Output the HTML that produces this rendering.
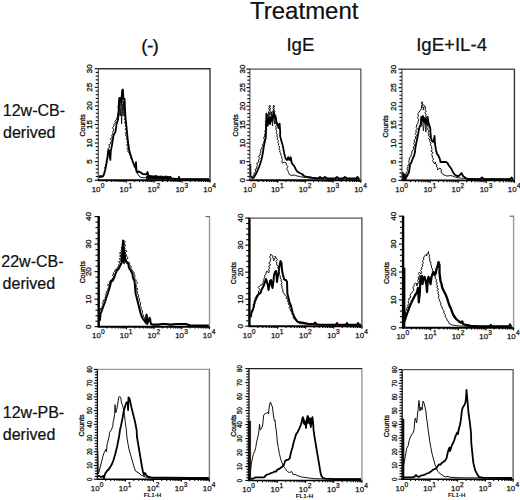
<!DOCTYPE html>
<html><head><meta charset="utf-8"><style>
html,body{margin:0;padding:0;background:#fff;width:520px;height:500px;overflow:hidden}
svg{position:absolute;left:0;top:0;display:block}
text{font-family:"Liberation Sans", sans-serif;fill:#111}
.yl{font-size:8px;text-anchor:middle;stroke:#111;stroke-width:0.3}
.xl{font-size:7.9px;text-anchor:middle;stroke:#111;stroke-width:0.25}
.sup{font-size:6.6px}
.fl{font-size:6.2px;font-weight:bold;text-anchor:middle}
.tk{stroke:#000;stroke-width:1.1}
.ax{stroke:#000;stroke-width:1.4}
.bx{stroke:#333;stroke-width:1.4}
.fillb{fill:#000;stroke:#000;stroke-width:0.6}
.mid{fill:none;stroke:#111;stroke-width:0.9;stroke-linejoin:round}
.thin{fill:none;stroke:#111;stroke-width:1.0;stroke-linejoin:round}
.thick{fill:none;stroke:#000;stroke-width:1.8;stroke-linejoin:round}
.t1{font-size:24px;stroke:#000;stroke-width:0.2}
.t2{font-size:18.6px;text-anchor:middle;stroke:#000;stroke-width:0.2}
.t3{font-size:16px;stroke:#000;stroke-width:0.2}
</style></head><body>
<svg width="520" height="500" viewBox="0 0 520 500">
<text class="t1" x="250.0" y="18.8">Treatment</text>
<text class="t2" x="149.7" y="52.3" style="font-size:19px;letter-spacing:-0.7px">(-)</text>
<text class="t2" x="300.4" y="51.2">IgE</text>
<text class="t2" x="451.6" y="51.2">IgE+IL-4</text>
<text class="t3" x="2.8" y="115.8">12w-CB-</text>
<text class="t3" x="3" y="137.9">derived</text>
<text class="t3" x="1.3" y="267.4">22w-CB-</text>
<text class="t3" x="2.6" y="289.2">derived</text>
<text class="t3" x="2.8" y="417.7">12w-PB-</text>
<text class="t3" x="2.8" y="440">derived</text>
<line x1="94.75" y1="180.20" x2="98.30" y2="180.20" class="tk"/>
<text class="yl" transform="translate(91.90,180.20) rotate(-90)">0</text>
<line x1="95.75" y1="176.48" x2="98.30" y2="176.48" class="tk"/>
<line x1="95.75" y1="172.77" x2="98.30" y2="172.77" class="tk"/>
<line x1="95.75" y1="169.05" x2="98.30" y2="169.05" class="tk"/>
<line x1="95.75" y1="165.33" x2="98.30" y2="165.33" class="tk"/>
<line x1="94.75" y1="161.62" x2="98.30" y2="161.62" class="tk"/>
<text class="yl" transform="translate(91.90,161.62) rotate(-90)">5</text>
<line x1="95.75" y1="157.90" x2="98.30" y2="157.90" class="tk"/>
<line x1="95.75" y1="154.18" x2="98.30" y2="154.18" class="tk"/>
<line x1="95.75" y1="150.47" x2="98.30" y2="150.47" class="tk"/>
<line x1="95.75" y1="146.75" x2="98.30" y2="146.75" class="tk"/>
<line x1="94.75" y1="143.03" x2="98.30" y2="143.03" class="tk"/>
<text class="yl" transform="translate(91.90,143.03) rotate(-90)">10</text>
<line x1="95.75" y1="139.32" x2="98.30" y2="139.32" class="tk"/>
<line x1="95.75" y1="135.60" x2="98.30" y2="135.60" class="tk"/>
<line x1="95.75" y1="131.88" x2="98.30" y2="131.88" class="tk"/>
<line x1="95.75" y1="128.17" x2="98.30" y2="128.17" class="tk"/>
<line x1="94.75" y1="124.45" x2="98.30" y2="124.45" class="tk"/>
<text class="yl" transform="translate(91.90,124.45) rotate(-90)">15</text>
<line x1="95.75" y1="120.73" x2="98.30" y2="120.73" class="tk"/>
<line x1="95.75" y1="117.02" x2="98.30" y2="117.02" class="tk"/>
<line x1="95.75" y1="113.30" x2="98.30" y2="113.30" class="tk"/>
<line x1="95.75" y1="109.58" x2="98.30" y2="109.58" class="tk"/>
<line x1="94.75" y1="105.87" x2="98.30" y2="105.87" class="tk"/>
<text class="yl" transform="translate(91.90,105.87) rotate(-90)">20</text>
<line x1="95.75" y1="102.15" x2="98.30" y2="102.15" class="tk"/>
<line x1="95.75" y1="98.43" x2="98.30" y2="98.43" class="tk"/>
<line x1="95.75" y1="94.72" x2="98.30" y2="94.72" class="tk"/>
<line x1="95.75" y1="91.00" x2="98.30" y2="91.00" class="tk"/>
<line x1="94.75" y1="87.28" x2="98.30" y2="87.28" class="tk"/>
<text class="yl" transform="translate(91.90,87.28) rotate(-90)">25</text>
<line x1="95.75" y1="83.57" x2="98.30" y2="83.57" class="tk"/>
<line x1="95.75" y1="79.85" x2="98.30" y2="79.85" class="tk"/>
<line x1="95.75" y1="76.13" x2="98.30" y2="76.13" class="tk"/>
<line x1="95.75" y1="72.42" x2="98.30" y2="72.42" class="tk"/>
<line x1="94.75" y1="68.70" x2="98.30" y2="68.70" class="tk"/>
<text class="yl" transform="translate(91.90,68.70) rotate(-90)">30</text>
<text class="yl" transform="translate(85.40,125.45) rotate(-90)" style="font-size:7px">Counts</text>
<line x1="106.71" y1="180.20" x2="106.71" y2="182.00" class="tk"/>
<line x1="111.62" y1="180.20" x2="111.62" y2="182.00" class="tk"/>
<line x1="115.11" y1="180.20" x2="115.11" y2="182.00" class="tk"/>
<line x1="117.82" y1="180.20" x2="117.82" y2="182.00" class="tk"/>
<line x1="120.03" y1="180.20" x2="120.03" y2="182.00" class="tk"/>
<line x1="121.90" y1="180.20" x2="121.90" y2="182.00" class="tk"/>
<line x1="123.52" y1="180.20" x2="123.52" y2="182.00" class="tk"/>
<line x1="124.95" y1="180.20" x2="124.95" y2="182.00" class="tk"/>
<line x1="126.22" y1="180.20" x2="126.22" y2="182.80" class="tk"/>
<line x1="134.63" y1="180.20" x2="134.63" y2="182.00" class="tk"/>
<line x1="139.55" y1="180.20" x2="139.55" y2="182.00" class="tk"/>
<line x1="143.04" y1="180.20" x2="143.04" y2="182.00" class="tk"/>
<line x1="145.74" y1="180.20" x2="145.74" y2="182.00" class="tk"/>
<line x1="147.95" y1="180.20" x2="147.95" y2="182.00" class="tk"/>
<line x1="149.82" y1="180.20" x2="149.82" y2="182.00" class="tk"/>
<line x1="151.44" y1="180.20" x2="151.44" y2="182.00" class="tk"/>
<line x1="152.87" y1="180.20" x2="152.87" y2="182.00" class="tk"/>
<line x1="154.15" y1="180.20" x2="154.15" y2="182.80" class="tk"/>
<line x1="162.56" y1="180.20" x2="162.56" y2="182.00" class="tk"/>
<line x1="167.47" y1="180.20" x2="167.47" y2="182.00" class="tk"/>
<line x1="170.96" y1="180.20" x2="170.96" y2="182.00" class="tk"/>
<line x1="173.67" y1="180.20" x2="173.67" y2="182.00" class="tk"/>
<line x1="175.88" y1="180.20" x2="175.88" y2="182.00" class="tk"/>
<line x1="177.75" y1="180.20" x2="177.75" y2="182.00" class="tk"/>
<line x1="179.37" y1="180.20" x2="179.37" y2="182.00" class="tk"/>
<line x1="180.80" y1="180.20" x2="180.80" y2="182.00" class="tk"/>
<line x1="182.07" y1="180.20" x2="182.07" y2="182.80" class="tk"/>
<line x1="190.48" y1="180.20" x2="190.48" y2="182.00" class="tk"/>
<line x1="195.40" y1="180.20" x2="195.40" y2="182.00" class="tk"/>
<line x1="198.89" y1="180.20" x2="198.89" y2="182.00" class="tk"/>
<line x1="201.59" y1="180.20" x2="201.59" y2="182.00" class="tk"/>
<line x1="203.80" y1="180.20" x2="203.80" y2="182.00" class="tk"/>
<line x1="205.67" y1="180.20" x2="205.67" y2="182.00" class="tk"/>
<line x1="207.29" y1="180.20" x2="207.29" y2="182.00" class="tk"/>
<line x1="208.72" y1="180.20" x2="208.72" y2="182.00" class="tk"/>
<line x1="210.00" y1="180.20" x2="210.00" y2="182.80" class="tk"/>
<text class="xl" x="98.00" y="191.80">10<tspan class="sup" dx="0.2" dy="-4.3">0</tspan></text>
<text class="xl" x="125.92" y="191.80">10<tspan class="sup" dx="0.2" dy="-4.3">1</tspan></text>
<text class="xl" x="153.85" y="191.80">10<tspan class="sup" dx="0.2" dy="-4.3">2</tspan></text>
<text class="xl" x="181.77" y="191.80">10<tspan class="sup" dx="0.2" dy="-4.3">3</tspan></text>
<text class="xl" x="209.70" y="191.80">10<tspan class="sup" dx="0.2" dy="-4.3">4</tspan></text>
<polyline class="mid" points="119.0,116.0 119.6,102.0 120.3,116.0 121.0,104.0 121.6,124.0 122.3,104.0 123.0,116.0 123.7,101.0 124.4,116.0"/>
<polygon class="fillb" points="146.5,176.0 150.0,175.6 160.0,176.2 170.6,176.5 170.6,179.2 146.5,179.2"/>
<polyline class="thin" points="98.5,177.5 100.0,177.3 101.5,177.2 103.0,177.0 103.8,175.0 104.5,173.0 104.2,171.1 105.7,169.6 104.6,167.6 105.8,166.0 105.6,164.3 107.1,162.9 105.8,161.1 107.2,159.7 107.0,158.0 108.0,156.5 107.0,154.7 108.3,153.3 107.3,151.5 108.0,150.0 108.1,148.2 109.8,147.0 108.7,144.8 110.7,143.8 110.8,142.0 111.6,140.5 110.3,138.7 112.5,137.3 111.6,135.6 113.0,133.8 112.8,131.6 113.9,129.9 112.4,127.6 114.0,126.0 113.8,124.3 115.6,123.0 114.8,121.2 116.3,119.9 116.8,118.0 117.7,116.1 117.6,114.0 118.5,112.1 118.4,110.0 119.2,108.6 117.7,106.9 119.4,105.6 119.0,104.0 120.1,102.5 118.6,100.5 119.8,99.0 120.6,97.0 121.4,99.0 121.0,97.2 122.8,95.8 122.2,94.0 122.0,95.8 123.0,97.4 122.2,99.3 123.0,101.0 122.3,102.9 124.1,104.4 123.0,106.3 123.8,108.0 123.1,109.7 124.8,111.1 123.5,112.8 125.3,114.3 124.4,116.0 125.5,117.6 124.1,119.4 125.8,120.9 124.3,122.7 126.3,124.2 125.4,126.0 126.5,127.5 125.1,129.3 127.1,130.7 125.5,132.4 126.2,134.0 125.6,135.7 127.5,137.1 126.2,138.9 127.6,140.3 127.0,142.0 127.7,143.5 126.6,145.3 128.7,146.6 127.1,148.5 128.2,150.0 127.8,151.9 129.5,153.0 129.7,154.8 131.0,156.0 130.9,158.3 132.5,160.0 132.4,162.3 134.0,164.0 133.9,166.3 135.5,168.0 135.3,169.7 137.5,170.7 137.0,172.5 138.0,174.2 139.0,176.0 141.0,177.5 142.8,177.6 144.7,177.7 146.5,177.8 148.2,177.9 150.0,178.0 151.7,178.1 153.3,178.2 155.0,178.2 156.7,178.3 158.3,178.4 160.0,178.5 161.5,178.6 163.0,178.6 164.5,178.7 166.0,178.8 167.5,178.8 169.0,178.9 170.5,178.9 172.0,179.0 173.5,179.0 175.1,179.0 176.6,179.0 178.2,179.0 179.7,179.0 181.2,179.1 182.8,179.1 184.3,179.1 185.9,179.1 187.4,179.1 189.0,179.1 190.5,179.1 192.0,179.1 193.6,179.1 195.1,179.1 196.7,179.1 198.2,179.1 199.8,179.1 201.3,179.2 202.8,179.2 204.4,179.2 205.9,179.2 207.5,179.2 209.0,179.2"/>
<polyline class="thick" points="98.5,176.5 103.2,176.0 104.2,173.7 105.3,169.5 106.3,164.3 107.4,158.0 108.2,152.0 109.0,150.0 110.3,160.0 110.8,151.0 111.8,146.0 112.5,142.0 113.5,135.6 115.5,131.6 116.5,124.4 118.0,119.6 118.6,112.0 118.8,104.0 119.3,98.0 120.6,98.0 121.2,104.0 122.2,90.0 122.9,89.5 123.5,99.0 124.6,99.0 125.0,108.0 125.3,114.0 125.6,118.0 126.4,126.0 127.2,134.0 128.0,142.0 129.2,150.0 130.2,153.9 131.3,157.0 132.3,160.2 133.4,163.3 134.4,165.4 135.4,167.4 136.0,162.2 136.5,171.6 137.4,172.5 138.8,171.5 140.8,172.5 142.7,174.0 146.5,174.4 147.5,172.0 148.5,175.9 150.4,176.3 153.0,177.5 156.0,176.0 158.0,178.0 161.0,176.5 163.0,178.0 166.0,176.5 168.0,178.0 170.6,177.0 171.5,178.3 176.0,179.0 178.5,179.0 179.0,176.8 179.5,179.2 209.0,179.2"/>
<line x1="98.30" y1="68.20" x2="98.30" y2="180.80" stroke="#444" stroke-width="1.1"/>
<line x1="97.70" y1="180.20" x2="210.60" y2="180.20" stroke="#000" stroke-width="1.9"/>
<line x1="210.00" y1="68.10" x2="210.00" y2="180.20" stroke="#3a3a3a" stroke-width="1.4"/>
<line x1="98.30" y1="68.70" x2="210.00" y2="68.70" stroke="#333" stroke-width="1.4"/>
<line x1="246.35" y1="180.20" x2="249.90" y2="180.20" class="tk"/>
<text class="yl" transform="translate(244.50,180.20) rotate(-90)">0</text>
<line x1="247.35" y1="176.50" x2="249.90" y2="176.50" class="tk"/>
<line x1="247.35" y1="172.79" x2="249.90" y2="172.79" class="tk"/>
<line x1="247.35" y1="169.09" x2="249.90" y2="169.09" class="tk"/>
<line x1="247.35" y1="165.39" x2="249.90" y2="165.39" class="tk"/>
<line x1="246.35" y1="161.68" x2="249.90" y2="161.68" class="tk"/>
<text class="yl" transform="translate(244.50,161.68) rotate(-90)">5</text>
<line x1="247.35" y1="157.98" x2="249.90" y2="157.98" class="tk"/>
<line x1="247.35" y1="154.28" x2="249.90" y2="154.28" class="tk"/>
<line x1="247.35" y1="150.57" x2="249.90" y2="150.57" class="tk"/>
<line x1="247.35" y1="146.87" x2="249.90" y2="146.87" class="tk"/>
<line x1="246.35" y1="143.17" x2="249.90" y2="143.17" class="tk"/>
<text class="yl" transform="translate(244.50,143.17) rotate(-90)">10</text>
<line x1="247.35" y1="139.46" x2="249.90" y2="139.46" class="tk"/>
<line x1="247.35" y1="135.76" x2="249.90" y2="135.76" class="tk"/>
<line x1="247.35" y1="132.06" x2="249.90" y2="132.06" class="tk"/>
<line x1="247.35" y1="128.35" x2="249.90" y2="128.35" class="tk"/>
<line x1="246.35" y1="124.65" x2="249.90" y2="124.65" class="tk"/>
<text class="yl" transform="translate(244.50,124.65) rotate(-90)">15</text>
<line x1="247.35" y1="120.95" x2="249.90" y2="120.95" class="tk"/>
<line x1="247.35" y1="117.24" x2="249.90" y2="117.24" class="tk"/>
<line x1="247.35" y1="113.54" x2="249.90" y2="113.54" class="tk"/>
<line x1="247.35" y1="109.84" x2="249.90" y2="109.84" class="tk"/>
<line x1="246.35" y1="106.13" x2="249.90" y2="106.13" class="tk"/>
<text class="yl" transform="translate(244.50,106.13) rotate(-90)">20</text>
<line x1="247.35" y1="102.43" x2="249.90" y2="102.43" class="tk"/>
<line x1="247.35" y1="98.73" x2="249.90" y2="98.73" class="tk"/>
<line x1="247.35" y1="95.02" x2="249.90" y2="95.02" class="tk"/>
<line x1="247.35" y1="91.32" x2="249.90" y2="91.32" class="tk"/>
<line x1="246.35" y1="87.62" x2="249.90" y2="87.62" class="tk"/>
<text class="yl" transform="translate(244.50,87.62) rotate(-90)">25</text>
<line x1="247.35" y1="83.91" x2="249.90" y2="83.91" class="tk"/>
<line x1="247.35" y1="80.21" x2="249.90" y2="80.21" class="tk"/>
<line x1="247.35" y1="76.51" x2="249.90" y2="76.51" class="tk"/>
<line x1="247.35" y1="72.80" x2="249.90" y2="72.80" class="tk"/>
<line x1="246.35" y1="69.10" x2="249.90" y2="69.10" class="tk"/>
<text class="yl" transform="translate(244.50,69.10) rotate(-90)">30</text>
<text class="yl" transform="translate(237.60,125.45) rotate(-90)" style="font-size:7px">Counts</text>
<line x1="258.25" y1="180.20" x2="258.25" y2="182.00" class="tk"/>
<line x1="263.13" y1="180.20" x2="263.13" y2="182.00" class="tk"/>
<line x1="266.59" y1="180.20" x2="266.59" y2="182.00" class="tk"/>
<line x1="269.28" y1="180.20" x2="269.28" y2="182.00" class="tk"/>
<line x1="271.47" y1="180.20" x2="271.47" y2="182.00" class="tk"/>
<line x1="273.33" y1="180.20" x2="273.33" y2="182.00" class="tk"/>
<line x1="274.94" y1="180.20" x2="274.94" y2="182.00" class="tk"/>
<line x1="276.36" y1="180.20" x2="276.36" y2="182.00" class="tk"/>
<line x1="277.62" y1="180.20" x2="277.62" y2="182.80" class="tk"/>
<line x1="285.97" y1="180.20" x2="285.97" y2="182.00" class="tk"/>
<line x1="290.85" y1="180.20" x2="290.85" y2="182.00" class="tk"/>
<line x1="294.32" y1="180.20" x2="294.32" y2="182.00" class="tk"/>
<line x1="297.00" y1="180.20" x2="297.00" y2="182.00" class="tk"/>
<line x1="299.20" y1="180.20" x2="299.20" y2="182.00" class="tk"/>
<line x1="301.06" y1="180.20" x2="301.06" y2="182.00" class="tk"/>
<line x1="302.66" y1="180.20" x2="302.66" y2="182.00" class="tk"/>
<line x1="304.08" y1="180.20" x2="304.08" y2="182.00" class="tk"/>
<line x1="305.35" y1="180.20" x2="305.35" y2="182.80" class="tk"/>
<line x1="313.70" y1="180.20" x2="313.70" y2="182.00" class="tk"/>
<line x1="318.58" y1="180.20" x2="318.58" y2="182.00" class="tk"/>
<line x1="322.04" y1="180.20" x2="322.04" y2="182.00" class="tk"/>
<line x1="324.73" y1="180.20" x2="324.73" y2="182.00" class="tk"/>
<line x1="326.92" y1="180.20" x2="326.92" y2="182.00" class="tk"/>
<line x1="328.78" y1="180.20" x2="328.78" y2="182.00" class="tk"/>
<line x1="330.39" y1="180.20" x2="330.39" y2="182.00" class="tk"/>
<line x1="331.81" y1="180.20" x2="331.81" y2="182.00" class="tk"/>
<line x1="333.08" y1="180.20" x2="333.08" y2="182.80" class="tk"/>
<line x1="341.42" y1="180.20" x2="341.42" y2="182.00" class="tk"/>
<line x1="346.30" y1="180.20" x2="346.30" y2="182.00" class="tk"/>
<line x1="349.77" y1="180.20" x2="349.77" y2="182.00" class="tk"/>
<line x1="352.45" y1="180.20" x2="352.45" y2="182.00" class="tk"/>
<line x1="354.65" y1="180.20" x2="354.65" y2="182.00" class="tk"/>
<line x1="356.51" y1="180.20" x2="356.51" y2="182.00" class="tk"/>
<line x1="358.11" y1="180.20" x2="358.11" y2="182.00" class="tk"/>
<line x1="359.53" y1="180.20" x2="359.53" y2="182.00" class="tk"/>
<line x1="360.80" y1="180.20" x2="360.80" y2="182.80" class="tk"/>
<text class="xl" x="249.60" y="191.80">10<tspan class="sup" dx="0.2" dy="-4.3">0</tspan></text>
<text class="xl" x="277.32" y="191.80">10<tspan class="sup" dx="0.2" dy="-4.3">1</tspan></text>
<text class="xl" x="305.05" y="191.80">10<tspan class="sup" dx="0.2" dy="-4.3">2</tspan></text>
<text class="xl" x="332.78" y="191.80">10<tspan class="sup" dx="0.2" dy="-4.3">3</tspan></text>
<text class="xl" x="360.50" y="191.80">10<tspan class="sup" dx="0.2" dy="-4.3">4</tspan></text>
<polyline class="mid" points="266.4,124.0 267.0,114.0 268.0,126.0 269.0,112.0 270.0,124.0 271.5,114.0 272.5,126.0 273.5,112.0 274.5,124.0 275.5,116.0 276.2,124.0"/>
<polyline class="thin" points="250.5,177.0 252.5,177.5 253.2,175.8 254.0,174.2 254.7,172.5 256.1,171.4 255.0,169.4 256.9,168.5 256.6,166.8 257.5,165.2 256.7,163.2 258.8,161.9 258.5,160.0 259.9,158.6 258.3,156.4 260.2,155.1 260.0,153.3 261.1,152.0 260.2,150.1 261.8,149.1 261.9,147.5 263.0,146.3 262.4,144.5 263.7,143.4 263.8,141.8 264.5,139.9 263.6,137.8 264.8,136.0 264.5,134.4 265.6,132.8 264.6,131.1 266.3,129.7 265.5,128.0 266.1,126.5 265.2,124.7 266.8,123.3 265.3,121.5 266.5,120.0 267.5,118.0 268.7,116.7 267.1,114.8 268.8,113.6 268.5,112.0 269.5,110.4 268.6,108.5 270.4,107.1 269.8,105.2 268.9,106.9 270.5,108.4 269.7,110.1 270.8,111.7 270.0,113.4 270.6,115.0 271.7,113.7 271.5,112.0 271.0,113.6 272.5,114.9 271.9,116.6 272.5,118.0 273.3,116.5 272.2,114.7 273.7,113.3 272.1,111.5 274.1,110.1 272.8,108.3 274.4,106.9 273.8,105.2 273.1,106.8 274.4,108.3 273.2,109.9 275.2,111.3 273.4,113.0 275.4,114.4 274.6,116.0 275.7,117.9 275.5,120.0 276.3,121.5 275.4,123.2 276.7,124.7 275.7,126.4 276.2,128.0 275.9,129.6 276.9,131.2 276.1,132.8 277.3,134.4 276.8,136.0 277.6,137.4 277.2,139.2 278.4,140.5 277.9,142.3 278.7,143.7 278.5,145.5 279.8,147.0 278.8,148.9 280.1,150.4 279.6,152.1 281.1,153.4 280.5,155.1 281.9,156.4 281.6,158.1 282.5,159.6 281.8,161.4 282.5,163.0 284.5,162.0 286.2,162.9 286.4,164.8 287.9,166.5 286.7,168.8 287.8,170.6 288.6,172.6 289.3,174.5 291.2,175.4 294.0,175.0 295.6,175.5 297.3,176.0 298.9,176.3 300.4,176.7 302.0,177.0 303.6,177.2 305.2,177.4 306.8,177.6 308.4,177.8 310.0,178.0 311.5,178.1 313.1,178.2 314.6,178.2 316.2,178.3 317.7,178.4 319.2,178.5 320.8,178.5 322.3,178.6 323.8,178.7 325.4,178.8 326.9,178.8 328.5,178.9 330.0,179.0 331.5,179.0 333.0,179.0 334.5,179.0 336.0,179.0 337.5,179.0 339.0,179.0 340.5,179.0 342.0,179.0 343.5,179.0 345.0,179.0 346.5,179.0 348.0,179.0 349.5,179.0 351.0,179.0 352.5,179.0 354.0,179.0 355.5,179.0 357.0,179.0 358.5,179.0 360.0,179.0"/>
<polyline class="thick" points="250.3,164.0 250.5,176.0 252.0,177.8 253.7,177.8 255.6,174.5 257.5,170.6 259.5,165.8 261.4,160.0 262.8,153.3 263.8,146.6 264.8,141.8 265.7,138.0 266.0,132.0 266.4,113.6 267.0,126.0 268.0,122.0 269.0,118.0 270.0,124.0 271.0,117.0 272.0,121.0 273.0,116.0 273.8,112.0 274.5,118.0 275.5,116.0 276.5,122.0 277.5,124.0 278.5,128.0 279.6,123.6 280.2,132.0 280.1,136.0 281.6,141.8 283.0,146.6 284.0,152.3 285.4,158.1 286.9,160.0 288.3,157.2 289.3,160.0 290.7,157.2 291.7,163.0 293.1,164.8 294.1,165.8 295.0,167.7 296.0,169.7 297.3,171.5 299.6,173.0 302.0,174.0 304.0,176.0 308.0,177.0 312.0,177.7 318.0,178.5 320.0,177.0 322.0,178.5 325.0,177.0 327.0,178.5 335.0,178.5 337.0,177.0 339.0,178.5 343.0,178.5 345.0,177.0 347.0,178.5 356.0,178.5 357.5,177.0 359.0,178.8"/>
<line x1="249.90" y1="68.60" x2="249.90" y2="180.80" stroke="#444" stroke-width="1.1"/>
<line x1="249.30" y1="180.20" x2="361.40" y2="180.20" stroke="#000" stroke-width="1.9"/>
<line x1="360.80" y1="68.50" x2="360.80" y2="180.20" stroke="#666" stroke-width="1.4"/>
<line x1="249.90" y1="69.10" x2="360.80" y2="69.10" stroke="#555" stroke-width="1.4"/>
<line x1="398.45" y1="180.40" x2="402.00" y2="180.40" class="tk"/>
<text class="yl" transform="translate(395.70,180.40) rotate(-90)">0</text>
<line x1="399.45" y1="176.69" x2="402.00" y2="176.69" class="tk"/>
<line x1="399.45" y1="172.99" x2="402.00" y2="172.99" class="tk"/>
<line x1="399.45" y1="169.28" x2="402.00" y2="169.28" class="tk"/>
<line x1="399.45" y1="165.57" x2="402.00" y2="165.57" class="tk"/>
<line x1="398.45" y1="161.87" x2="402.00" y2="161.87" class="tk"/>
<text class="yl" transform="translate(395.70,161.87) rotate(-90)">5</text>
<line x1="399.45" y1="158.16" x2="402.00" y2="158.16" class="tk"/>
<line x1="399.45" y1="154.45" x2="402.00" y2="154.45" class="tk"/>
<line x1="399.45" y1="150.75" x2="402.00" y2="150.75" class="tk"/>
<line x1="399.45" y1="147.04" x2="402.00" y2="147.04" class="tk"/>
<line x1="398.45" y1="143.33" x2="402.00" y2="143.33" class="tk"/>
<text class="yl" transform="translate(395.70,143.33) rotate(-90)">10</text>
<line x1="399.45" y1="139.63" x2="402.00" y2="139.63" class="tk"/>
<line x1="399.45" y1="135.92" x2="402.00" y2="135.92" class="tk"/>
<line x1="399.45" y1="132.21" x2="402.00" y2="132.21" class="tk"/>
<line x1="399.45" y1="128.51" x2="402.00" y2="128.51" class="tk"/>
<line x1="398.45" y1="124.80" x2="402.00" y2="124.80" class="tk"/>
<text class="yl" transform="translate(395.70,124.80) rotate(-90)">15</text>
<line x1="399.45" y1="121.09" x2="402.00" y2="121.09" class="tk"/>
<line x1="399.45" y1="117.39" x2="402.00" y2="117.39" class="tk"/>
<line x1="399.45" y1="113.68" x2="402.00" y2="113.68" class="tk"/>
<line x1="399.45" y1="109.97" x2="402.00" y2="109.97" class="tk"/>
<line x1="398.45" y1="106.27" x2="402.00" y2="106.27" class="tk"/>
<text class="yl" transform="translate(395.70,106.27) rotate(-90)">20</text>
<line x1="399.45" y1="102.56" x2="402.00" y2="102.56" class="tk"/>
<line x1="399.45" y1="98.85" x2="402.00" y2="98.85" class="tk"/>
<line x1="399.45" y1="95.15" x2="402.00" y2="95.15" class="tk"/>
<line x1="399.45" y1="91.44" x2="402.00" y2="91.44" class="tk"/>
<line x1="398.45" y1="87.73" x2="402.00" y2="87.73" class="tk"/>
<text class="yl" transform="translate(395.70,87.73) rotate(-90)">25</text>
<line x1="399.45" y1="84.03" x2="402.00" y2="84.03" class="tk"/>
<line x1="399.45" y1="80.32" x2="402.00" y2="80.32" class="tk"/>
<line x1="399.45" y1="76.61" x2="402.00" y2="76.61" class="tk"/>
<line x1="399.45" y1="72.91" x2="402.00" y2="72.91" class="tk"/>
<line x1="398.45" y1="69.20" x2="402.00" y2="69.20" class="tk"/>
<text class="yl" transform="translate(395.70,69.20) rotate(-90)">30</text>
<text class="yl" transform="translate(388.00,126.40) rotate(-90)" style="font-size:7px">Counts</text>
<line x1="410.46" y1="180.40" x2="410.46" y2="182.20" class="tk"/>
<line x1="415.41" y1="180.40" x2="415.41" y2="182.20" class="tk"/>
<line x1="418.92" y1="180.40" x2="418.92" y2="182.20" class="tk"/>
<line x1="421.64" y1="180.40" x2="421.64" y2="182.20" class="tk"/>
<line x1="423.87" y1="180.40" x2="423.87" y2="182.20" class="tk"/>
<line x1="425.75" y1="180.40" x2="425.75" y2="182.20" class="tk"/>
<line x1="427.38" y1="180.40" x2="427.38" y2="182.20" class="tk"/>
<line x1="428.81" y1="180.40" x2="428.81" y2="182.20" class="tk"/>
<line x1="430.10" y1="180.40" x2="430.10" y2="183.00" class="tk"/>
<line x1="438.56" y1="180.40" x2="438.56" y2="182.20" class="tk"/>
<line x1="443.51" y1="180.40" x2="443.51" y2="182.20" class="tk"/>
<line x1="447.02" y1="180.40" x2="447.02" y2="182.20" class="tk"/>
<line x1="449.74" y1="180.40" x2="449.74" y2="182.20" class="tk"/>
<line x1="451.97" y1="180.40" x2="451.97" y2="182.20" class="tk"/>
<line x1="453.85" y1="180.40" x2="453.85" y2="182.20" class="tk"/>
<line x1="455.48" y1="180.40" x2="455.48" y2="182.20" class="tk"/>
<line x1="456.91" y1="180.40" x2="456.91" y2="182.20" class="tk"/>
<line x1="458.20" y1="180.40" x2="458.20" y2="183.00" class="tk"/>
<line x1="466.66" y1="180.40" x2="466.66" y2="182.20" class="tk"/>
<line x1="471.61" y1="180.40" x2="471.61" y2="182.20" class="tk"/>
<line x1="475.12" y1="180.40" x2="475.12" y2="182.20" class="tk"/>
<line x1="477.84" y1="180.40" x2="477.84" y2="182.20" class="tk"/>
<line x1="480.07" y1="180.40" x2="480.07" y2="182.20" class="tk"/>
<line x1="481.95" y1="180.40" x2="481.95" y2="182.20" class="tk"/>
<line x1="483.58" y1="180.40" x2="483.58" y2="182.20" class="tk"/>
<line x1="485.01" y1="180.40" x2="485.01" y2="182.20" class="tk"/>
<line x1="486.30" y1="180.40" x2="486.30" y2="183.00" class="tk"/>
<line x1="494.76" y1="180.40" x2="494.76" y2="182.20" class="tk"/>
<line x1="499.71" y1="180.40" x2="499.71" y2="182.20" class="tk"/>
<line x1="503.22" y1="180.40" x2="503.22" y2="182.20" class="tk"/>
<line x1="505.94" y1="180.40" x2="505.94" y2="182.20" class="tk"/>
<line x1="508.17" y1="180.40" x2="508.17" y2="182.20" class="tk"/>
<line x1="510.05" y1="180.40" x2="510.05" y2="182.20" class="tk"/>
<line x1="511.68" y1="180.40" x2="511.68" y2="182.20" class="tk"/>
<line x1="513.11" y1="180.40" x2="513.11" y2="182.20" class="tk"/>
<line x1="514.40" y1="180.40" x2="514.40" y2="183.00" class="tk"/>
<text class="xl" x="401.70" y="192.00">10<tspan class="sup" dx="0.2" dy="-4.3">0</tspan></text>
<text class="xl" x="429.80" y="192.00">10<tspan class="sup" dx="0.2" dy="-4.3">1</tspan></text>
<text class="xl" x="457.90" y="192.00">10<tspan class="sup" dx="0.2" dy="-4.3">2</tspan></text>
<text class="xl" x="486.00" y="192.00">10<tspan class="sup" dx="0.2" dy="-4.3">3</tspan></text>
<text class="xl" x="514.10" y="192.00">10<tspan class="sup" dx="0.2" dy="-4.3">4</tspan></text>
<polyline class="mid" points="421.2,127.0 422.4,117.0 423.4,131.0 424.6,118.0 425.8,132.0 427.2,118.0 428.2,126.0"/>
<polygon class="fillb" points="402.5,173.0 405.0,174.0 407.0,176.0 406.0,180.0 402.5,180.0"/>
<polyline class="thin" points="402.8,176.0 404.0,178.0 405.0,176.0 406.0,174.0 406.5,172.2 407.7,170.7 407.1,168.6 408.0,167.0 408.0,165.2 409.3,163.6 408.6,161.6 409.5,160.0 409.1,158.1 410.9,156.8 411.0,155.0 411.9,153.1 412.0,151.0 413.7,149.4 413.5,147.0 414.5,145.5 413.7,143.6 414.5,142.0 414.1,140.2 415.5,138.7 415.5,137.0 416.5,135.5 415.2,133.5 416.5,132.0 415.6,130.5 417.5,129.0 416.2,127.5 416.8,126.0 416.6,124.4 418.1,123.2 418.0,121.6 419.0,119.8 417.5,117.8 418.4,116.0 417.9,113.8 419.2,112.0 420.5,110.0 421.6,108.1 421.5,106.0 422.3,103.9 422.2,101.6 421.4,103.4 423.6,104.9 421.7,106.7 423.8,108.2 423.0,110.0 423.8,108.0 424.4,105.6 425.7,107.4 425.2,109.6 426.2,111.1 424.9,112.8 426.2,114.4 425.6,116.0 426.4,117.4 425.7,119.1 426.6,120.4 426.5,122.0 427.5,123.9 427.5,126.0 428.3,127.5 427.3,129.4 429.4,130.6 428.0,132.5 429.0,134.0 428.3,135.7 430.5,136.8 428.7,138.7 430.0,140.0 429.7,141.7 431.1,143.1 430.4,144.9 431.7,146.3 431.5,148.0 432.2,149.5 431.1,151.3 433.1,152.7 431.4,154.5 432.5,156.0 432.1,157.6 433.8,158.9 432.4,160.6 433.5,162.0 434.5,164.0 435.5,162.0 435.4,163.7 437.0,165.2 436.5,167.0 437.9,168.2 437.5,170.0 438.5,169.0 440.0,168.0 441.4,169.8 441.0,172.0 442.5,174.0 444.0,175.0 445.5,175.5 447.0,176.0 448.9,175.8 450.8,175.5 452.3,176.0 453.8,176.5 455.4,177.1 457.0,177.7 458.6,177.9 460.2,178.0 461.8,178.2 463.4,178.3 465.0,178.5 466.5,178.6 468.0,178.6 469.5,178.7 471.0,178.7 472.5,178.8 474.0,178.8 475.5,178.8 477.0,178.9 478.5,178.9 480.0,179.0 481.5,179.0 483.0,179.0 484.5,179.0 486.0,179.0 487.5,179.0 489.0,179.0 490.5,179.0 492.0,179.0 493.5,179.0 495.0,179.0 496.5,179.0 498.0,179.0 499.5,179.0 501.0,179.0 502.5,179.0 504.0,179.0 505.5,179.0 507.0,179.0 508.5,179.0 510.0,179.0 511.5,179.0 513.0,179.0"/>
<polyline class="thick" points="402.5,172.0 403.0,179.0 405.0,178.0 407.0,176.0 409.0,172.0 410.0,165.0 411.5,162.0 413.0,158.0 414.0,156.0 415.0,152.0 415.5,147.0 416.5,142.0 417.5,137.0 418.5,132.0 419.2,128.0 420.8,124.0 421.2,116.8 422.0,120.0 423.0,116.0 424.0,122.0 425.0,118.0 426.0,124.0 427.0,120.0 427.6,116.8 428.4,122.4 430.0,127.2 430.4,129.6 430.4,132.0 431.0,138.0 432.0,141.0 433.5,142.0 434.5,136.0 435.0,144.0 436.0,150.0 437.0,154.0 438.0,155.0 439.5,158.0 440.5,162.0 442.0,162.0 444.0,162.0 446.0,162.0 447.5,163.0 448.5,165.0 450.0,167.0 451.5,169.0 453.0,172.3 454.6,174.6 457.0,176.0 459.0,176.0 461.5,173.0 463.0,176.0 465.4,177.7 467.7,179.0 475.0,179.2 480.0,179.2 482.0,177.5 484.0,179.2 510.0,179.2 511.5,177.5 513.0,179.2"/>
<line x1="402.00" y1="68.70" x2="402.00" y2="181.00" stroke="#444" stroke-width="1.1"/>
<line x1="401.40" y1="180.40" x2="515.00" y2="180.40" stroke="#000" stroke-width="1.9"/>
<line x1="514.40" y1="68.60" x2="514.40" y2="180.40" stroke="#333" stroke-width="1.4"/>
<line x1="402.00" y1="69.20" x2="514.40" y2="69.20" stroke="#555" stroke-width="1.4"/>
<line x1="94.50" y1="326.70" x2="98.70" y2="326.70" class="tk"/>
<text class="yl" transform="translate(91.30,326.70) rotate(-90)">0</text>
<line x1="95.50" y1="321.19" x2="98.70" y2="321.19" class="tk"/>
<line x1="95.50" y1="315.69" x2="98.70" y2="315.69" class="tk"/>
<line x1="95.50" y1="310.19" x2="98.70" y2="310.19" class="tk"/>
<line x1="95.50" y1="304.68" x2="98.70" y2="304.68" class="tk"/>
<line x1="94.50" y1="299.18" x2="98.70" y2="299.18" class="tk"/>
<text class="yl" transform="translate(91.30,299.18) rotate(-90)">10</text>
<line x1="95.50" y1="293.67" x2="98.70" y2="293.67" class="tk"/>
<line x1="95.50" y1="288.16" x2="98.70" y2="288.16" class="tk"/>
<line x1="95.50" y1="282.66" x2="98.70" y2="282.66" class="tk"/>
<line x1="95.50" y1="277.15" x2="98.70" y2="277.15" class="tk"/>
<line x1="94.50" y1="271.65" x2="98.70" y2="271.65" class="tk"/>
<text class="yl" transform="translate(91.30,271.65) rotate(-90)">20</text>
<line x1="95.50" y1="266.14" x2="98.70" y2="266.14" class="tk"/>
<line x1="95.50" y1="260.64" x2="98.70" y2="260.64" class="tk"/>
<line x1="95.50" y1="255.13" x2="98.70" y2="255.13" class="tk"/>
<line x1="95.50" y1="249.63" x2="98.70" y2="249.63" class="tk"/>
<line x1="94.50" y1="244.12" x2="98.70" y2="244.12" class="tk"/>
<text class="yl" transform="translate(91.30,244.12) rotate(-90)">30</text>
<line x1="95.50" y1="238.62" x2="98.70" y2="238.62" class="tk"/>
<line x1="95.50" y1="233.12" x2="98.70" y2="233.12" class="tk"/>
<line x1="95.50" y1="227.61" x2="98.70" y2="227.61" class="tk"/>
<line x1="95.50" y1="222.10" x2="98.70" y2="222.10" class="tk"/>
<line x1="94.50" y1="216.60" x2="98.70" y2="216.60" class="tk"/>
<text class="yl" transform="translate(91.30,216.60) rotate(-90)">40</text>
<text class="yl" transform="translate(85.00,272.15) rotate(-90)" style="font-size:7px">Counts</text>
<line x1="107.04" y1="326.70" x2="107.04" y2="328.50" class="tk"/>
<line x1="111.92" y1="326.70" x2="111.92" y2="328.50" class="tk"/>
<line x1="115.38" y1="326.70" x2="115.38" y2="328.50" class="tk"/>
<line x1="118.06" y1="326.70" x2="118.06" y2="328.50" class="tk"/>
<line x1="120.25" y1="326.70" x2="120.25" y2="328.50" class="tk"/>
<line x1="122.11" y1="326.70" x2="122.11" y2="328.50" class="tk"/>
<line x1="123.72" y1="326.70" x2="123.72" y2="328.50" class="tk"/>
<line x1="125.13" y1="326.70" x2="125.13" y2="328.50" class="tk"/>
<line x1="126.40" y1="326.70" x2="126.40" y2="329.30" class="tk"/>
<line x1="134.74" y1="326.70" x2="134.74" y2="328.50" class="tk"/>
<line x1="139.62" y1="326.70" x2="139.62" y2="328.50" class="tk"/>
<line x1="143.08" y1="326.70" x2="143.08" y2="328.50" class="tk"/>
<line x1="145.76" y1="326.70" x2="145.76" y2="328.50" class="tk"/>
<line x1="147.95" y1="326.70" x2="147.95" y2="328.50" class="tk"/>
<line x1="149.81" y1="326.70" x2="149.81" y2="328.50" class="tk"/>
<line x1="151.42" y1="326.70" x2="151.42" y2="328.50" class="tk"/>
<line x1="152.83" y1="326.70" x2="152.83" y2="328.50" class="tk"/>
<line x1="154.10" y1="326.70" x2="154.10" y2="329.30" class="tk"/>
<line x1="162.44" y1="326.70" x2="162.44" y2="328.50" class="tk"/>
<line x1="167.32" y1="326.70" x2="167.32" y2="328.50" class="tk"/>
<line x1="170.78" y1="326.70" x2="170.78" y2="328.50" class="tk"/>
<line x1="173.46" y1="326.70" x2="173.46" y2="328.50" class="tk"/>
<line x1="175.65" y1="326.70" x2="175.65" y2="328.50" class="tk"/>
<line x1="177.51" y1="326.70" x2="177.51" y2="328.50" class="tk"/>
<line x1="179.12" y1="326.70" x2="179.12" y2="328.50" class="tk"/>
<line x1="180.53" y1="326.70" x2="180.53" y2="328.50" class="tk"/>
<line x1="181.80" y1="326.70" x2="181.80" y2="329.30" class="tk"/>
<line x1="190.14" y1="326.70" x2="190.14" y2="328.50" class="tk"/>
<line x1="195.02" y1="326.70" x2="195.02" y2="328.50" class="tk"/>
<line x1="198.48" y1="326.70" x2="198.48" y2="328.50" class="tk"/>
<line x1="201.16" y1="326.70" x2="201.16" y2="328.50" class="tk"/>
<line x1="203.35" y1="326.70" x2="203.35" y2="328.50" class="tk"/>
<line x1="205.21" y1="326.70" x2="205.21" y2="328.50" class="tk"/>
<line x1="206.82" y1="326.70" x2="206.82" y2="328.50" class="tk"/>
<line x1="208.23" y1="326.70" x2="208.23" y2="328.50" class="tk"/>
<line x1="209.50" y1="326.70" x2="209.50" y2="329.30" class="tk"/>
<text class="xl" x="98.40" y="338.30">10<tspan class="sup" dx="0.2" dy="-4.3">0</tspan></text>
<text class="xl" x="126.10" y="338.30">10<tspan class="sup" dx="0.2" dy="-4.3">1</tspan></text>
<text class="xl" x="153.80" y="338.30">10<tspan class="sup" dx="0.2" dy="-4.3">2</tspan></text>
<text class="xl" x="181.50" y="338.30">10<tspan class="sup" dx="0.2" dy="-4.3">3</tspan></text>
<text class="xl" x="209.20" y="338.30">10<tspan class="sup" dx="0.2" dy="-4.3">4</tspan></text>
<polygon class="fillb" points="122.5,252.0 123.0,241.0 124.0,250.0 125.0,258.0 124.5,264.0 122.0,262.0"/>
<polyline class="thin" points="99.3,319.3 99.3,320.3 98.0,318.8 100.3,317.3 98.6,315.8 99.3,314.3 98.6,312.0 100.4,310.3 100.1,308.7 102.6,308.1 101.9,306.3 103.8,305.5 102.1,303.3 103.4,302.3 103.0,300.4 105.8,299.4 104.9,297.3 106.5,296.4 105.3,294.4 106.4,293.3 106.3,291.5 108.0,290.2 107.9,288.3 109.6,287.1 107.4,285.0 109.7,284.0 109.4,282.3 110.4,280.3 110.9,281.3 112.8,280.4 112.4,278.3 114.3,277.5 112.3,275.2 113.9,274.3 113.6,272.5 114.9,271.3 115.2,269.6 116.9,269.3 117.1,267.5 118.4,266.3 118.7,264.6 119.9,263.3 118.5,261.7 121.3,260.5 119.2,258.9 121.8,257.6 119.5,256.0 121.9,254.7 119.4,253.1 121.5,251.8 120.9,250.3 122.1,249.2 121.2,247.3 123.2,246.5 122.0,244.5 124.3,243.8 123.2,241.8 124.6,240.8 125.3,242.2 123.4,243.9 125.8,245.2 124.1,246.9 125.2,248.3 124.3,249.9 127.0,251.1 124.9,252.9 126.0,254.3 126.6,256.3 128.2,257.8 125.9,259.7 127.1,261.3 128.6,263.3 129.6,262.8 128.9,264.8 131.3,266.3 130.6,268.3 132.0,269.5 132.6,271.3 134.2,272.4 134.1,274.3 135.0,276.2 134.6,278.3 135.8,279.6 136.1,281.3 137.6,282.8 135.8,284.7 136.6,286.3 135.7,287.8 138.0,289.0 135.8,290.6 137.8,291.8 137.1,293.3 138.6,295.1 138.1,297.3 139.6,299.0 139.1,301.3 140.8,303.0 140.1,305.3 141.2,307.2 141.1,309.3 142.6,311.0 142.1,313.3 143.3,314.6 143.1,316.3 144.5,317.5 144.6,319.3 146.1,321.3 146.0,323.5 146.1,322.1 147.4,320.8 145.2,319.2 147.4,318.0 145.2,316.4 146.5,315.1 148.0,316.5 145.8,318.2 148.0,319.6 147.0,321.2 147.2,322.8 147.3,324.3 147.9,322.8 148.4,321.2 148.1,319.4 149.6,318.2 150.9,319.6 150.3,321.4 150.7,322.9 151.0,324.5 153.5,325.1 155.0,325.1 156.5,325.1 158.0,325.1 160.0,324.8 162.0,324.5 164.0,324.5 166.0,324.5 167.5,324.7 168.9,324.9 170.4,325.1 171.9,325.0 173.4,324.8 175.0,324.6 176.5,324.5 178.1,324.5 179.6,324.5 181.2,324.5 182.7,324.5 184.2,324.5 185.8,324.5 187.2,324.9 188.6,325.4 190.0,325.8 191.5,325.8 192.9,325.8 194.4,325.8 195.8,325.9 197.3,325.9 198.8,325.9 200.2,325.9 201.7,325.9 203.2,325.9 204.6,326.0 206.1,326.0 207.5,326.0 209.0,326.0"/>
<polyline class="thick" style="stroke-width:2.0" points="99.0,319.0 100.0,320.0 100.5,314.0 102.0,310.0 103.5,306.0 105.0,302.0 106.5,297.0 108.0,293.0 109.5,288.0 111.0,282.0 112.0,280.0 112.5,281.0 114.0,278.0 115.5,274.0 116.5,271.0 118.5,269.0 120.0,266.0 121.5,263.0 122.5,250.0 123.0,240.5 123.6,248.0 124.4,254.0 125.0,256.0 125.5,261.0 127.0,263.0 128.0,262.5 129.0,268.0 131.0,271.0 132.5,274.0 133.0,278.0 134.5,281.0 135.0,286.0 135.5,293.0 136.5,297.0 137.5,301.0 138.5,305.0 139.5,309.0 140.5,313.0 141.5,316.0 143.0,319.0 144.5,321.0 146.0,323.0 146.5,314.6 147.3,323.8 149.6,317.7 151.0,324.0 153.5,324.6 158.0,324.6 162.0,324.0 166.0,324.0 170.4,324.6 176.5,324.0 185.8,324.0 190.0,325.3 209.0,325.5"/>
<line x1="98.70" y1="216.10" x2="98.70" y2="327.30" stroke="#000" stroke-width="2.4"/>
<line x1="98.10" y1="326.70" x2="210.10" y2="326.70" stroke="#000" stroke-width="2.1"/>
<line x1="209.50" y1="216.00" x2="209.50" y2="326.70" stroke="#999" stroke-width="1.4"/>
<line x1="205.50" y1="216.60" x2="209.50" y2="216.60" stroke="#555" stroke-width="1"/>
<line x1="245.20" y1="326.20" x2="249.40" y2="326.20" class="tk"/>
<text class="yl" transform="translate(242.90,326.20) rotate(-90)">0</text>
<line x1="246.20" y1="320.80" x2="249.40" y2="320.80" class="tk"/>
<line x1="246.20" y1="315.39" x2="249.40" y2="315.39" class="tk"/>
<line x1="246.20" y1="309.99" x2="249.40" y2="309.99" class="tk"/>
<line x1="246.20" y1="304.58" x2="249.40" y2="304.58" class="tk"/>
<line x1="245.20" y1="299.18" x2="249.40" y2="299.18" class="tk"/>
<text class="yl" transform="translate(242.90,299.18) rotate(-90)">10</text>
<line x1="246.20" y1="293.77" x2="249.40" y2="293.77" class="tk"/>
<line x1="246.20" y1="288.37" x2="249.40" y2="288.37" class="tk"/>
<line x1="246.20" y1="282.96" x2="249.40" y2="282.96" class="tk"/>
<line x1="246.20" y1="277.56" x2="249.40" y2="277.56" class="tk"/>
<line x1="245.20" y1="272.15" x2="249.40" y2="272.15" class="tk"/>
<text class="yl" transform="translate(242.90,272.15) rotate(-90)">20</text>
<line x1="246.20" y1="266.75" x2="249.40" y2="266.75" class="tk"/>
<line x1="246.20" y1="261.34" x2="249.40" y2="261.34" class="tk"/>
<line x1="246.20" y1="255.94" x2="249.40" y2="255.94" class="tk"/>
<line x1="246.20" y1="250.53" x2="249.40" y2="250.53" class="tk"/>
<line x1="245.20" y1="245.12" x2="249.40" y2="245.12" class="tk"/>
<text class="yl" transform="translate(242.90,245.12) rotate(-90)">30</text>
<line x1="246.20" y1="239.72" x2="249.40" y2="239.72" class="tk"/>
<line x1="246.20" y1="234.31" x2="249.40" y2="234.31" class="tk"/>
<line x1="246.20" y1="228.91" x2="249.40" y2="228.91" class="tk"/>
<line x1="246.20" y1="223.50" x2="249.40" y2="223.50" class="tk"/>
<line x1="245.20" y1="218.10" x2="249.40" y2="218.10" class="tk"/>
<text class="yl" transform="translate(242.90,218.10) rotate(-90)">40</text>
<text class="yl" transform="translate(235.60,273.05) rotate(-90)" style="font-size:7px">Counts</text>
<line x1="257.87" y1="326.20" x2="257.87" y2="328.00" class="tk"/>
<line x1="262.82" y1="326.20" x2="262.82" y2="328.00" class="tk"/>
<line x1="266.33" y1="326.20" x2="266.33" y2="328.00" class="tk"/>
<line x1="269.06" y1="326.20" x2="269.06" y2="328.00" class="tk"/>
<line x1="271.29" y1="326.20" x2="271.29" y2="328.00" class="tk"/>
<line x1="273.17" y1="326.20" x2="273.17" y2="328.00" class="tk"/>
<line x1="274.80" y1="326.20" x2="274.80" y2="328.00" class="tk"/>
<line x1="276.24" y1="326.20" x2="276.24" y2="328.00" class="tk"/>
<line x1="277.52" y1="326.20" x2="277.52" y2="328.80" class="tk"/>
<line x1="285.99" y1="326.20" x2="285.99" y2="328.00" class="tk"/>
<line x1="290.94" y1="326.20" x2="290.94" y2="328.00" class="tk"/>
<line x1="294.46" y1="326.20" x2="294.46" y2="328.00" class="tk"/>
<line x1="297.18" y1="326.20" x2="297.18" y2="328.00" class="tk"/>
<line x1="299.41" y1="326.20" x2="299.41" y2="328.00" class="tk"/>
<line x1="301.29" y1="326.20" x2="301.29" y2="328.00" class="tk"/>
<line x1="302.92" y1="326.20" x2="302.92" y2="328.00" class="tk"/>
<line x1="304.36" y1="326.20" x2="304.36" y2="328.00" class="tk"/>
<line x1="305.65" y1="326.20" x2="305.65" y2="328.80" class="tk"/>
<line x1="314.12" y1="326.20" x2="314.12" y2="328.00" class="tk"/>
<line x1="319.07" y1="326.20" x2="319.07" y2="328.00" class="tk"/>
<line x1="322.58" y1="326.20" x2="322.58" y2="328.00" class="tk"/>
<line x1="325.31" y1="326.20" x2="325.31" y2="328.00" class="tk"/>
<line x1="327.54" y1="326.20" x2="327.54" y2="328.00" class="tk"/>
<line x1="329.42" y1="326.20" x2="329.42" y2="328.00" class="tk"/>
<line x1="331.05" y1="326.20" x2="331.05" y2="328.00" class="tk"/>
<line x1="332.49" y1="326.20" x2="332.49" y2="328.00" class="tk"/>
<line x1="333.77" y1="326.20" x2="333.77" y2="328.80" class="tk"/>
<line x1="342.24" y1="326.20" x2="342.24" y2="328.00" class="tk"/>
<line x1="347.19" y1="326.20" x2="347.19" y2="328.00" class="tk"/>
<line x1="350.71" y1="326.20" x2="350.71" y2="328.00" class="tk"/>
<line x1="353.43" y1="326.20" x2="353.43" y2="328.00" class="tk"/>
<line x1="355.66" y1="326.20" x2="355.66" y2="328.00" class="tk"/>
<line x1="357.54" y1="326.20" x2="357.54" y2="328.00" class="tk"/>
<line x1="359.17" y1="326.20" x2="359.17" y2="328.00" class="tk"/>
<line x1="360.61" y1="326.20" x2="360.61" y2="328.00" class="tk"/>
<line x1="361.90" y1="326.20" x2="361.90" y2="328.80" class="tk"/>
<text class="xl" x="249.10" y="337.80">10<tspan class="sup" dx="0.2" dy="-4.3">0</tspan></text>
<text class="xl" x="277.22" y="337.80">10<tspan class="sup" dx="0.2" dy="-4.3">1</tspan></text>
<text class="xl" x="305.35" y="337.80">10<tspan class="sup" dx="0.2" dy="-4.3">2</tspan></text>
<text class="xl" x="333.47" y="337.80">10<tspan class="sup" dx="0.2" dy="-4.3">3</tspan></text>
<text class="xl" x="361.60" y="337.80">10<tspan class="sup" dx="0.2" dy="-4.3">4</tspan></text>
<polyline class="thin" points="250.4,318.0 251.7,316.5 250.4,314.5 251.5,313.0 251.2,311.1 253.2,309.9 253.0,308.0 254.5,306.8 252.8,304.8 255.2,303.8 254.5,302.0 256.1,300.7 254.9,298.5 256.0,297.0 257.0,295.0 258.5,293.3 258.5,291.0 260.0,289.6 258.1,287.5 259.5,286.0 261.0,285.0 263.0,284.0 263.0,281.9 264.0,280.0 264.0,278.3 265.0,277.0 264.6,275.2 266.1,273.8 266.0,272.0 267.5,271.0 268.5,273.0 269.4,271.4 268.7,269.6 269.5,268.0 268.7,266.3 270.7,264.9 268.7,263.1 270.4,261.6 270.0,260.0 271.1,258.6 269.3,256.9 270.9,255.5 270.5,254.0 271.5,255.0 273.0,256.2 272.5,258.0 274.1,259.1 273.5,261.0 274.5,259.0 275.3,257.6 275.0,256.0 276.0,258.0 277.5,259.4 276.0,261.5 277.0,263.0 276.4,264.7 278.5,266.2 277.5,268.0 279.0,269.2 278.5,271.0 279.5,273.0 279.1,274.7 280.6,276.3 280.0,278.0 281.3,279.2 281.0,281.0 282.0,282.5 281.1,284.4 282.0,286.0 281.9,288.2 283.0,290.0 282.8,292.3 284.5,293.8 285.2,295.5 286.5,296.7 286.2,298.4 288.2,299.3 287.5,301.1 288.4,302.4 288.2,304.3 290.2,305.6 289.0,307.7 290.3,309.2 290.4,310.9 292.4,312.0 291.8,314.0 293.5,315.5 293.2,317.8 295.0,319.7 296.1,321.0 297.3,322.3 300.0,323.5 301.7,323.7 303.3,323.8 305.0,324.0 306.5,324.1 308.0,324.1 309.5,324.1 311.0,324.2 312.5,324.2 314.0,324.3 315.5,324.4 317.0,324.4 318.5,324.4 320.0,324.5 321.5,324.5 323.0,324.5 324.6,324.5 326.1,324.5 327.6,324.6 329.1,324.6 330.6,324.6 332.1,324.6 333.7,324.6 335.2,324.6 336.7,324.6 338.2,324.6 339.7,324.6 341.3,324.7 342.8,324.7 344.3,324.7 345.8,324.7 347.3,324.7 348.9,324.7 350.4,324.7 351.9,324.7 353.4,324.7 354.9,324.8 356.4,324.8 358.0,324.8 359.5,324.8 361.0,324.8"/>
<polyline class="thick" style="stroke-width:2.0" points="250.4,316.8 251.8,312.0 252.8,310.0 253.8,306.3 254.7,301.5 256.2,298.6 257.6,295.7 259.0,293.8 260.5,292.8 261.5,290.0 263.0,287.0 264.0,285.0 265.0,282.0 266.0,279.0 267.0,282.0 268.0,286.0 268.5,290.0 269.5,285.0 270.0,281.0 271.0,280.0 272.0,286.0 272.5,288.0 273.5,281.0 274.0,275.0 275.0,272.0 276.0,271.0 276.5,276.0 277.0,282.0 277.5,278.0 278.5,273.0 279.5,266.0 280.5,261.0 281.5,263.0 282.0,270.0 283.0,275.0 284.0,279.0 285.0,280.0 286.0,280.0 287.0,282.0 287.4,293.8 288.4,297.6 289.3,301.5 290.8,305.3 291.8,309.2 292.7,313.0 294.2,316.8 296.0,319.7 297.5,321.7 300.4,322.3 304.2,323.0 308.0,323.8 314.0,324.0 315.0,322.5 317.0,324.5 330.0,324.8 336.0,324.8 337.0,323.0 338.0,324.8 346.0,324.8 347.0,323.0 348.0,324.8 357.0,324.8 358.0,323.0 359.0,324.8 361.0,324.8"/>
<line x1="249.40" y1="217.60" x2="249.40" y2="326.80" stroke="#000" stroke-width="2.4"/>
<line x1="248.80" y1="326.20" x2="362.50" y2="326.20" stroke="#000" stroke-width="2.1"/>
<line x1="361.90" y1="217.50" x2="361.90" y2="326.20" stroke="#555" stroke-width="1.4"/>
<line x1="249.40" y1="218.10" x2="361.90" y2="218.10" stroke="#555" stroke-width="1.4"/>
<line x1="398.90" y1="327.80" x2="403.10" y2="327.80" class="tk"/>
<text class="yl" transform="translate(396.30,327.80) rotate(-90)">0</text>
<line x1="399.90" y1="322.22" x2="403.10" y2="322.22" class="tk"/>
<line x1="399.90" y1="316.64" x2="403.10" y2="316.64" class="tk"/>
<line x1="399.90" y1="311.06" x2="403.10" y2="311.06" class="tk"/>
<line x1="399.90" y1="305.48" x2="403.10" y2="305.48" class="tk"/>
<line x1="398.90" y1="299.90" x2="403.10" y2="299.90" class="tk"/>
<text class="yl" transform="translate(396.30,299.90) rotate(-90)">10</text>
<line x1="399.90" y1="294.32" x2="403.10" y2="294.32" class="tk"/>
<line x1="399.90" y1="288.74" x2="403.10" y2="288.74" class="tk"/>
<line x1="399.90" y1="283.16" x2="403.10" y2="283.16" class="tk"/>
<line x1="399.90" y1="277.58" x2="403.10" y2="277.58" class="tk"/>
<line x1="398.90" y1="272.00" x2="403.10" y2="272.00" class="tk"/>
<text class="yl" transform="translate(396.30,272.00) rotate(-90)">20</text>
<line x1="399.90" y1="266.42" x2="403.10" y2="266.42" class="tk"/>
<line x1="399.90" y1="260.84" x2="403.10" y2="260.84" class="tk"/>
<line x1="399.90" y1="255.26" x2="403.10" y2="255.26" class="tk"/>
<line x1="399.90" y1="249.68" x2="403.10" y2="249.68" class="tk"/>
<line x1="398.90" y1="244.10" x2="403.10" y2="244.10" class="tk"/>
<text class="yl" transform="translate(396.30,244.10) rotate(-90)">30</text>
<line x1="399.90" y1="238.52" x2="403.10" y2="238.52" class="tk"/>
<line x1="399.90" y1="232.94" x2="403.10" y2="232.94" class="tk"/>
<line x1="399.90" y1="227.36" x2="403.10" y2="227.36" class="tk"/>
<line x1="399.90" y1="221.78" x2="403.10" y2="221.78" class="tk"/>
<line x1="398.90" y1="216.20" x2="403.10" y2="216.20" class="tk"/>
<text class="yl" transform="translate(396.30,216.20) rotate(-90)">40</text>
<text class="yl" transform="translate(388.80,273.00) rotate(-90)" style="font-size:7px">Counts</text>
<line x1="411.42" y1="327.80" x2="411.42" y2="329.60" class="tk"/>
<line x1="416.28" y1="327.80" x2="416.28" y2="329.60" class="tk"/>
<line x1="419.73" y1="327.80" x2="419.73" y2="329.60" class="tk"/>
<line x1="422.41" y1="327.80" x2="422.41" y2="329.60" class="tk"/>
<line x1="424.60" y1="327.80" x2="424.60" y2="329.60" class="tk"/>
<line x1="426.45" y1="327.80" x2="426.45" y2="329.60" class="tk"/>
<line x1="428.05" y1="327.80" x2="428.05" y2="329.60" class="tk"/>
<line x1="429.46" y1="327.80" x2="429.46" y2="329.60" class="tk"/>
<line x1="430.73" y1="327.80" x2="430.73" y2="330.40" class="tk"/>
<line x1="439.04" y1="327.80" x2="439.04" y2="329.60" class="tk"/>
<line x1="443.91" y1="327.80" x2="443.91" y2="329.60" class="tk"/>
<line x1="447.36" y1="327.80" x2="447.36" y2="329.60" class="tk"/>
<line x1="450.03" y1="327.80" x2="450.03" y2="329.60" class="tk"/>
<line x1="452.22" y1="327.80" x2="452.22" y2="329.60" class="tk"/>
<line x1="454.07" y1="327.80" x2="454.07" y2="329.60" class="tk"/>
<line x1="455.67" y1="327.80" x2="455.67" y2="329.60" class="tk"/>
<line x1="457.09" y1="327.80" x2="457.09" y2="329.60" class="tk"/>
<line x1="458.35" y1="327.80" x2="458.35" y2="330.40" class="tk"/>
<line x1="466.67" y1="327.80" x2="466.67" y2="329.60" class="tk"/>
<line x1="471.53" y1="327.80" x2="471.53" y2="329.60" class="tk"/>
<line x1="474.98" y1="327.80" x2="474.98" y2="329.60" class="tk"/>
<line x1="477.66" y1="327.80" x2="477.66" y2="329.60" class="tk"/>
<line x1="479.85" y1="327.80" x2="479.85" y2="329.60" class="tk"/>
<line x1="481.70" y1="327.80" x2="481.70" y2="329.60" class="tk"/>
<line x1="483.30" y1="327.80" x2="483.30" y2="329.60" class="tk"/>
<line x1="484.71" y1="327.80" x2="484.71" y2="329.60" class="tk"/>
<line x1="485.98" y1="327.80" x2="485.98" y2="330.40" class="tk"/>
<line x1="494.29" y1="327.80" x2="494.29" y2="329.60" class="tk"/>
<line x1="499.16" y1="327.80" x2="499.16" y2="329.60" class="tk"/>
<line x1="502.61" y1="327.80" x2="502.61" y2="329.60" class="tk"/>
<line x1="505.28" y1="327.80" x2="505.28" y2="329.60" class="tk"/>
<line x1="507.47" y1="327.80" x2="507.47" y2="329.60" class="tk"/>
<line x1="509.32" y1="327.80" x2="509.32" y2="329.60" class="tk"/>
<line x1="510.92" y1="327.80" x2="510.92" y2="329.60" class="tk"/>
<line x1="512.34" y1="327.80" x2="512.34" y2="329.60" class="tk"/>
<line x1="513.60" y1="327.80" x2="513.60" y2="330.40" class="tk"/>
<text class="xl" x="402.80" y="339.40">10<tspan class="sup" dx="0.2" dy="-4.3">0</tspan></text>
<text class="xl" x="430.43" y="339.40">10<tspan class="sup" dx="0.2" dy="-4.3">1</tspan></text>
<text class="xl" x="458.05" y="339.40">10<tspan class="sup" dx="0.2" dy="-4.3">2</tspan></text>
<text class="xl" x="485.68" y="339.40">10<tspan class="sup" dx="0.2" dy="-4.3">3</tspan></text>
<text class="xl" x="513.30" y="339.40">10<tspan class="sup" dx="0.2" dy="-4.3">4</tspan></text>
<polygon class="fillb" points="403.4,268.0 405.0,268.0 405.0,327.0 403.4,327.0"/>
<polyline class="thin" points="403.8,320.0 405.4,318.1 404.8,315.7 405.8,313.9 405.2,311.7 406.3,310.0 406.4,308.3 408.2,307.1 407.7,305.2 408.8,303.7 408.1,301.8 409.1,300.3 408.7,298.5 410.9,297.3 410.1,295.5 411.0,293.6 412.5,291.7 414.0,290.1 412.9,287.7 414.0,286.0 414.3,284.3 415.5,283.0 417.3,284.0 417.0,286.0 416.5,284.1 418.7,282.7 417.7,280.7 418.5,279.0 418.3,277.2 419.9,275.6 418.5,273.6 419.5,272.0 421.0,274.0 421.8,272.4 420.5,270.4 422.0,269.0 421.6,267.2 423.0,266.0 422.1,264.3 423.7,262.8 422.2,261.1 423.9,259.6 423.5,258.0 424.5,256.0 426.0,254.5 427.0,256.0 426.5,254.2 428.7,253.2 428.5,251.5 428.0,253.4 429.7,255.1 429.0,257.0 430.0,259.0 429.4,260.9 431.0,262.0 430.6,264.1 431.5,266.0 431.5,267.7 432.5,269.0 432.2,270.8 433.5,272.0 433.7,274.2 435.0,276.0 435.3,278.2 436.5,280.0 436.1,281.6 437.3,283.0 436.4,284.6 437.8,286.0 436.7,287.6 438.5,289.0 437.0,290.6 438.6,292.0 438.0,293.6 439.0,295.4 438.3,297.6 439.4,299.4 439.8,301.5 440.9,303.2 440.8,305.3 442.2,307.0 442.3,309.0 443.9,310.5 443.8,312.8 445.3,314.5 445.2,316.7 446.6,318.4 447.1,320.5 448.7,321.5 449.0,323.4 450.6,324.2 452.3,325.0 453.9,325.3 455.4,325.5 457.0,325.8 458.6,325.9 460.2,325.9 461.9,326.0 463.5,326.1 465.1,326.1 466.8,326.2 468.4,326.2 470.0,326.3 471.5,326.3 473.0,326.3 474.5,326.3 476.0,326.3 477.5,326.3 479.0,326.3 480.5,326.3 482.0,326.3 483.5,326.3 485.0,326.3 486.5,326.3 488.0,326.3 489.5,326.3 491.0,326.3 492.5,326.3 494.0,326.3 495.5,326.3 497.0,326.3 498.5,326.3 500.0,326.3 501.5,326.3 503.0,326.3 504.5,326.3 506.0,326.3 507.5,326.3 509.0,326.3 510.5,326.3 512.0,326.3"/>
<polyline class="thick" style="stroke-width:2.3" points="404.0,268.0 404.0,322.0 404.8,320.5 406.3,315.7 407.7,311.9 409.1,308.0 410.6,304.2 412.0,301.3 413.5,298.4 414.9,295.5 416.8,292.7 418.0,288.0 418.3,290.7 418.8,302.3 419.7,293.6 420.5,277.0 422.0,276.0 422.5,284.0 423.5,278.0 424.5,277.0 425.5,280.0 426.5,285.0 427.0,292.0 427.5,283.0 428.5,277.0 429.5,279.0 430.5,284.0 431.5,277.0 432.5,274.0 433.5,272.0 434.5,275.0 435.5,274.0 436.5,269.0 437.5,266.0 438.5,262.0 439.5,265.0 439.5,273.0 440.5,281.0 441.5,284.0 442.3,287.8 444.2,291.7 445.7,294.6 447.1,298.4 448.6,303.2 450.0,307.0 450.8,308.0 452.3,312.7 453.8,315.8 456.0,318.8 458.5,321.0 460.8,322.7 462.3,321.5 463.0,324.0 466.0,325.0 470.8,325.8 480.0,326.5 490.0,326.5 490.8,325.0 491.6,326.5 509.5,326.5 510.0,324.5 510.8,326.5"/>
<line x1="403.10" y1="215.70" x2="403.10" y2="328.40" stroke="#000" stroke-width="2.4"/>
<line x1="402.50" y1="327.80" x2="514.20" y2="327.80" stroke="#000" stroke-width="2.1"/>
<line x1="513.60" y1="215.60" x2="513.60" y2="327.80" stroke="#999" stroke-width="1.4"/>
<line x1="509.60" y1="216.20" x2="513.60" y2="216.20" stroke="#555" stroke-width="1"/>
<line x1="93.75" y1="479.20" x2="97.40" y2="479.20" class="tk"/>
<text class="yl" transform="translate(91.60,479.20) rotate(-90) scale(0.76,1)">0</text>
<line x1="94.75" y1="476.45" x2="97.40" y2="476.45" class="tk"/>
<line x1="94.75" y1="473.71" x2="97.40" y2="473.71" class="tk"/>
<line x1="94.75" y1="470.96" x2="97.40" y2="470.96" class="tk"/>
<line x1="94.75" y1="468.22" x2="97.40" y2="468.22" class="tk"/>
<line x1="93.75" y1="465.47" x2="97.40" y2="465.47" class="tk"/>
<text class="yl" transform="translate(91.60,465.47) rotate(-90) scale(0.76,1)">10</text>
<line x1="94.75" y1="462.73" x2="97.40" y2="462.73" class="tk"/>
<line x1="94.75" y1="459.99" x2="97.40" y2="459.99" class="tk"/>
<line x1="94.75" y1="457.24" x2="97.40" y2="457.24" class="tk"/>
<line x1="94.75" y1="454.50" x2="97.40" y2="454.50" class="tk"/>
<line x1="93.75" y1="451.75" x2="97.40" y2="451.75" class="tk"/>
<text class="yl" transform="translate(91.60,451.75) rotate(-90) scale(0.76,1)">20</text>
<line x1="94.75" y1="449.00" x2="97.40" y2="449.00" class="tk"/>
<line x1="94.75" y1="446.26" x2="97.40" y2="446.26" class="tk"/>
<line x1="94.75" y1="443.51" x2="97.40" y2="443.51" class="tk"/>
<line x1="94.75" y1="440.77" x2="97.40" y2="440.77" class="tk"/>
<line x1="93.75" y1="438.02" x2="97.40" y2="438.02" class="tk"/>
<text class="yl" transform="translate(91.60,438.02) rotate(-90) scale(0.76,1)">30</text>
<line x1="94.75" y1="435.28" x2="97.40" y2="435.28" class="tk"/>
<line x1="94.75" y1="432.53" x2="97.40" y2="432.53" class="tk"/>
<line x1="94.75" y1="429.79" x2="97.40" y2="429.79" class="tk"/>
<line x1="94.75" y1="427.04" x2="97.40" y2="427.04" class="tk"/>
<line x1="93.75" y1="424.30" x2="97.40" y2="424.30" class="tk"/>
<text class="yl" transform="translate(91.60,424.30) rotate(-90) scale(0.76,1)">40</text>
<line x1="94.75" y1="421.56" x2="97.40" y2="421.56" class="tk"/>
<line x1="94.75" y1="418.81" x2="97.40" y2="418.81" class="tk"/>
<line x1="94.75" y1="416.06" x2="97.40" y2="416.06" class="tk"/>
<line x1="94.75" y1="413.32" x2="97.40" y2="413.32" class="tk"/>
<line x1="93.75" y1="410.57" x2="97.40" y2="410.57" class="tk"/>
<text class="yl" transform="translate(91.60,410.57) rotate(-90) scale(0.76,1)">50</text>
<line x1="94.75" y1="407.83" x2="97.40" y2="407.83" class="tk"/>
<line x1="94.75" y1="405.08" x2="97.40" y2="405.08" class="tk"/>
<line x1="94.75" y1="402.34" x2="97.40" y2="402.34" class="tk"/>
<line x1="94.75" y1="399.59" x2="97.40" y2="399.59" class="tk"/>
<line x1="93.75" y1="396.85" x2="97.40" y2="396.85" class="tk"/>
<text class="yl" transform="translate(91.60,396.85) rotate(-90) scale(0.76,1)">60</text>
<line x1="94.75" y1="394.11" x2="97.40" y2="394.11" class="tk"/>
<line x1="94.75" y1="391.36" x2="97.40" y2="391.36" class="tk"/>
<line x1="94.75" y1="388.62" x2="97.40" y2="388.62" class="tk"/>
<line x1="94.75" y1="385.87" x2="97.40" y2="385.87" class="tk"/>
<line x1="93.75" y1="383.12" x2="97.40" y2="383.12" class="tk"/>
<text class="yl" transform="translate(91.60,383.12) rotate(-90) scale(0.76,1)">70</text>
<line x1="94.75" y1="380.38" x2="97.40" y2="380.38" class="tk"/>
<line x1="94.75" y1="377.63" x2="97.40" y2="377.63" class="tk"/>
<line x1="94.75" y1="374.89" x2="97.40" y2="374.89" class="tk"/>
<line x1="94.75" y1="372.14" x2="97.40" y2="372.14" class="tk"/>
<line x1="93.75" y1="369.40" x2="97.40" y2="369.40" class="tk"/>
<text class="yl" transform="translate(91.60,369.40) rotate(-90) scale(0.76,1)">80</text>
<text class="yl" transform="translate(84.40,425.50) rotate(-90)" style="font-size:7px">Counts</text>
<line x1="105.83" y1="479.20" x2="105.83" y2="481.00" class="tk"/>
<line x1="110.76" y1="479.20" x2="110.76" y2="481.00" class="tk"/>
<line x1="114.26" y1="479.20" x2="114.26" y2="481.00" class="tk"/>
<line x1="116.97" y1="479.20" x2="116.97" y2="481.00" class="tk"/>
<line x1="119.19" y1="479.20" x2="119.19" y2="481.00" class="tk"/>
<line x1="121.06" y1="479.20" x2="121.06" y2="481.00" class="tk"/>
<line x1="122.69" y1="479.20" x2="122.69" y2="481.00" class="tk"/>
<line x1="124.12" y1="479.20" x2="124.12" y2="481.00" class="tk"/>
<line x1="125.40" y1="479.20" x2="125.40" y2="481.80" class="tk"/>
<line x1="133.83" y1="479.20" x2="133.83" y2="481.00" class="tk"/>
<line x1="138.76" y1="479.20" x2="138.76" y2="481.00" class="tk"/>
<line x1="142.26" y1="479.20" x2="142.26" y2="481.00" class="tk"/>
<line x1="144.97" y1="479.20" x2="144.97" y2="481.00" class="tk"/>
<line x1="147.19" y1="479.20" x2="147.19" y2="481.00" class="tk"/>
<line x1="149.06" y1="479.20" x2="149.06" y2="481.00" class="tk"/>
<line x1="150.69" y1="479.20" x2="150.69" y2="481.00" class="tk"/>
<line x1="152.12" y1="479.20" x2="152.12" y2="481.00" class="tk"/>
<line x1="153.40" y1="479.20" x2="153.40" y2="481.80" class="tk"/>
<line x1="161.83" y1="479.20" x2="161.83" y2="481.00" class="tk"/>
<line x1="166.76" y1="479.20" x2="166.76" y2="481.00" class="tk"/>
<line x1="170.26" y1="479.20" x2="170.26" y2="481.00" class="tk"/>
<line x1="172.97" y1="479.20" x2="172.97" y2="481.00" class="tk"/>
<line x1="175.19" y1="479.20" x2="175.19" y2="481.00" class="tk"/>
<line x1="177.06" y1="479.20" x2="177.06" y2="481.00" class="tk"/>
<line x1="178.69" y1="479.20" x2="178.69" y2="481.00" class="tk"/>
<line x1="180.12" y1="479.20" x2="180.12" y2="481.00" class="tk"/>
<line x1="181.40" y1="479.20" x2="181.40" y2="481.80" class="tk"/>
<line x1="189.83" y1="479.20" x2="189.83" y2="481.00" class="tk"/>
<line x1="194.76" y1="479.20" x2="194.76" y2="481.00" class="tk"/>
<line x1="198.26" y1="479.20" x2="198.26" y2="481.00" class="tk"/>
<line x1="200.97" y1="479.20" x2="200.97" y2="481.00" class="tk"/>
<line x1="203.19" y1="479.20" x2="203.19" y2="481.00" class="tk"/>
<line x1="205.06" y1="479.20" x2="205.06" y2="481.00" class="tk"/>
<line x1="206.69" y1="479.20" x2="206.69" y2="481.00" class="tk"/>
<line x1="208.12" y1="479.20" x2="208.12" y2="481.00" class="tk"/>
<line x1="209.40" y1="479.20" x2="209.40" y2="481.80" class="tk"/>
<text class="xl" x="97.10" y="490.80">10<tspan class="sup" dx="0.2" dy="-4.3">0</tspan></text>
<text class="xl" x="125.10" y="490.80">10<tspan class="sup" dx="0.2" dy="-4.3">1</tspan></text>
<text class="xl" x="153.10" y="490.80">10<tspan class="sup" dx="0.2" dy="-4.3">2</tspan></text>
<text class="xl" x="181.10" y="490.80">10<tspan class="sup" dx="0.2" dy="-4.3">3</tspan></text>
<text class="xl" x="209.10" y="490.80">10<tspan class="sup" dx="0.2" dy="-4.3">4</tspan></text>
<text class="fl" x="152.50" y="497.00">FL1-H</text>
<polyline class="thin" points="97.8,451.0 98.3,474.0 99.0,472.0 100.0,468.0 101.0,464.0 102.0,460.0 103.0,456.0 104.0,453.0 105.0,451.0 106.0,449.0 106.5,452.0 107.0,445.0 108.0,441.0 109.0,437.0 109.6,432.5 111.4,429.8 112.8,426.2 113.2,421.7 114.1,418.1 114.6,413.6 115.0,404.6 115.9,412.7 116.8,409.1 117.7,404.6 118.6,397.4 120.0,396.5 120.9,398.3 121.3,401.9 122.2,404.6 123.1,407.3 124.0,411.8 124.5,415.4 124.9,419.0 125.4,422.6 125.8,426.2 126.3,429.8 127.0,438.0 128.0,444.0 129.0,449.0 130.0,453.0 131.5,458.0 133.0,463.0 134.0,467.0 135.5,471.0 137.0,472.0 139.0,473.0 141.0,475.0 143.0,476.0 147.3,477.7 160.0,478.2 209.0,478.2"/>
<polyline class="thick" points="98.0,476.0 99.0,476.0 101.0,477.0 103.0,476.0 104.0,478.0 105.0,474.0 107.0,471.0 109.0,469.0 110.5,466.5 112.0,464.0 113.5,460.0 115.0,455.0 116.0,451.0 117.0,447.0 118.0,442.0 119.0,437.0 119.6,433.0 120.0,429.8 120.9,426.2 121.8,421.7 122.7,417.2 123.6,411.8 124.0,410.0 125.4,405.5 126.3,402.8 127.6,401.9 128.1,410.0 128.5,397.4 129.4,398.3 130.3,401.9 131.2,406.4 132.1,410.0 133.0,413.6 133.9,417.2 134.8,420.8 135.7,425.3 136.6,430.0 137.0,437.0 138.0,443.0 139.0,449.0 140.0,455.0 141.0,461.0 142.0,467.0 143.0,472.0 144.0,475.0 145.0,473.0 146.5,475.4 148.8,477.0 152.0,477.7 165.8,477.7 190.0,478.0 209.0,478.0"/>
<line x1="97.40" y1="368.90" x2="97.40" y2="479.80" stroke="#111" stroke-width="1.3"/>
<line x1="96.80" y1="479.20" x2="210.00" y2="479.20" stroke="#000" stroke-width="1.6"/>
<line x1="209.40" y1="368.80" x2="209.40" y2="479.20" stroke="#777" stroke-width="1.4"/>
<line x1="97.40" y1="369.40" x2="209.40" y2="369.40" stroke="#999" stroke-width="1.4"/>
<line x1="245.35" y1="480.50" x2="249.00" y2="480.50" class="tk"/>
<text class="yl" transform="translate(242.30,480.50) rotate(-90) scale(0.76,1)">0</text>
<line x1="246.35" y1="477.70" x2="249.00" y2="477.70" class="tk"/>
<line x1="246.35" y1="474.90" x2="249.00" y2="474.90" class="tk"/>
<line x1="246.35" y1="472.11" x2="249.00" y2="472.11" class="tk"/>
<line x1="246.35" y1="469.31" x2="249.00" y2="469.31" class="tk"/>
<line x1="245.35" y1="466.51" x2="249.00" y2="466.51" class="tk"/>
<text class="yl" transform="translate(242.30,466.51) rotate(-90) scale(0.76,1)">10</text>
<line x1="246.35" y1="463.72" x2="249.00" y2="463.72" class="tk"/>
<line x1="246.35" y1="460.92" x2="249.00" y2="460.92" class="tk"/>
<line x1="246.35" y1="458.12" x2="249.00" y2="458.12" class="tk"/>
<line x1="246.35" y1="455.32" x2="249.00" y2="455.32" class="tk"/>
<line x1="245.35" y1="452.52" x2="249.00" y2="452.52" class="tk"/>
<text class="yl" transform="translate(242.30,452.52) rotate(-90) scale(0.76,1)">20</text>
<line x1="246.35" y1="449.73" x2="249.00" y2="449.73" class="tk"/>
<line x1="246.35" y1="446.93" x2="249.00" y2="446.93" class="tk"/>
<line x1="246.35" y1="444.13" x2="249.00" y2="444.13" class="tk"/>
<line x1="246.35" y1="441.34" x2="249.00" y2="441.34" class="tk"/>
<line x1="245.35" y1="438.54" x2="249.00" y2="438.54" class="tk"/>
<text class="yl" transform="translate(242.30,438.54) rotate(-90) scale(0.76,1)">30</text>
<line x1="246.35" y1="435.74" x2="249.00" y2="435.74" class="tk"/>
<line x1="246.35" y1="432.94" x2="249.00" y2="432.94" class="tk"/>
<line x1="246.35" y1="430.14" x2="249.00" y2="430.14" class="tk"/>
<line x1="246.35" y1="427.35" x2="249.00" y2="427.35" class="tk"/>
<line x1="245.35" y1="424.55" x2="249.00" y2="424.55" class="tk"/>
<text class="yl" transform="translate(242.30,424.55) rotate(-90) scale(0.76,1)">40</text>
<line x1="246.35" y1="421.75" x2="249.00" y2="421.75" class="tk"/>
<line x1="246.35" y1="418.96" x2="249.00" y2="418.96" class="tk"/>
<line x1="246.35" y1="416.16" x2="249.00" y2="416.16" class="tk"/>
<line x1="246.35" y1="413.36" x2="249.00" y2="413.36" class="tk"/>
<line x1="245.35" y1="410.56" x2="249.00" y2="410.56" class="tk"/>
<text class="yl" transform="translate(242.30,410.56) rotate(-90) scale(0.76,1)">50</text>
<line x1="246.35" y1="407.76" x2="249.00" y2="407.76" class="tk"/>
<line x1="246.35" y1="404.97" x2="249.00" y2="404.97" class="tk"/>
<line x1="246.35" y1="402.17" x2="249.00" y2="402.17" class="tk"/>
<line x1="246.35" y1="399.37" x2="249.00" y2="399.37" class="tk"/>
<line x1="245.35" y1="396.58" x2="249.00" y2="396.58" class="tk"/>
<text class="yl" transform="translate(242.30,396.58) rotate(-90) scale(0.76,1)">60</text>
<line x1="246.35" y1="393.78" x2="249.00" y2="393.78" class="tk"/>
<line x1="246.35" y1="390.98" x2="249.00" y2="390.98" class="tk"/>
<line x1="246.35" y1="388.18" x2="249.00" y2="388.18" class="tk"/>
<line x1="246.35" y1="385.38" x2="249.00" y2="385.38" class="tk"/>
<line x1="245.35" y1="382.59" x2="249.00" y2="382.59" class="tk"/>
<text class="yl" transform="translate(242.30,382.59) rotate(-90) scale(0.76,1)">70</text>
<line x1="246.35" y1="379.79" x2="249.00" y2="379.79" class="tk"/>
<line x1="246.35" y1="376.99" x2="249.00" y2="376.99" class="tk"/>
<line x1="246.35" y1="374.20" x2="249.00" y2="374.20" class="tk"/>
<line x1="246.35" y1="371.40" x2="249.00" y2="371.40" class="tk"/>
<line x1="245.35" y1="368.60" x2="249.00" y2="368.60" class="tk"/>
<text class="yl" transform="translate(242.30,368.60) rotate(-90) scale(0.76,1)">80</text>
<text class="yl" transform="translate(235.60,425.75) rotate(-90)" style="font-size:7px">Counts</text>
<line x1="257.50" y1="480.50" x2="257.50" y2="482.30" class="tk"/>
<line x1="262.47" y1="480.50" x2="262.47" y2="482.30" class="tk"/>
<line x1="265.99" y1="480.50" x2="265.99" y2="482.30" class="tk"/>
<line x1="268.73" y1="480.50" x2="268.73" y2="482.30" class="tk"/>
<line x1="270.96" y1="480.50" x2="270.96" y2="482.30" class="tk"/>
<line x1="272.85" y1="480.50" x2="272.85" y2="482.30" class="tk"/>
<line x1="274.49" y1="480.50" x2="274.49" y2="482.30" class="tk"/>
<line x1="275.93" y1="480.50" x2="275.93" y2="482.30" class="tk"/>
<line x1="277.23" y1="480.50" x2="277.23" y2="483.10" class="tk"/>
<line x1="285.72" y1="480.50" x2="285.72" y2="482.30" class="tk"/>
<line x1="290.69" y1="480.50" x2="290.69" y2="482.30" class="tk"/>
<line x1="294.22" y1="480.50" x2="294.22" y2="482.30" class="tk"/>
<line x1="296.95" y1="480.50" x2="296.95" y2="482.30" class="tk"/>
<line x1="299.19" y1="480.50" x2="299.19" y2="482.30" class="tk"/>
<line x1="301.08" y1="480.50" x2="301.08" y2="482.30" class="tk"/>
<line x1="302.71" y1="480.50" x2="302.71" y2="482.30" class="tk"/>
<line x1="304.16" y1="480.50" x2="304.16" y2="482.30" class="tk"/>
<line x1="305.45" y1="480.50" x2="305.45" y2="483.10" class="tk"/>
<line x1="313.95" y1="480.50" x2="313.95" y2="482.30" class="tk"/>
<line x1="318.92" y1="480.50" x2="318.92" y2="482.30" class="tk"/>
<line x1="322.44" y1="480.50" x2="322.44" y2="482.30" class="tk"/>
<line x1="325.18" y1="480.50" x2="325.18" y2="482.30" class="tk"/>
<line x1="327.41" y1="480.50" x2="327.41" y2="482.30" class="tk"/>
<line x1="329.30" y1="480.50" x2="329.30" y2="482.30" class="tk"/>
<line x1="330.94" y1="480.50" x2="330.94" y2="482.30" class="tk"/>
<line x1="332.38" y1="480.50" x2="332.38" y2="482.30" class="tk"/>
<line x1="333.67" y1="480.50" x2="333.67" y2="483.10" class="tk"/>
<line x1="342.17" y1="480.50" x2="342.17" y2="482.30" class="tk"/>
<line x1="347.14" y1="480.50" x2="347.14" y2="482.30" class="tk"/>
<line x1="350.67" y1="480.50" x2="350.67" y2="482.30" class="tk"/>
<line x1="353.40" y1="480.50" x2="353.40" y2="482.30" class="tk"/>
<line x1="355.64" y1="480.50" x2="355.64" y2="482.30" class="tk"/>
<line x1="357.53" y1="480.50" x2="357.53" y2="482.30" class="tk"/>
<line x1="359.16" y1="480.50" x2="359.16" y2="482.30" class="tk"/>
<line x1="360.61" y1="480.50" x2="360.61" y2="482.30" class="tk"/>
<line x1="361.90" y1="480.50" x2="361.90" y2="483.10" class="tk"/>
<text class="xl" x="248.70" y="492.10">10<tspan class="sup" dx="0.2" dy="-4.3">0</tspan></text>
<text class="xl" x="276.93" y="492.10">10<tspan class="sup" dx="0.2" dy="-4.3">1</tspan></text>
<text class="xl" x="305.15" y="492.10">10<tspan class="sup" dx="0.2" dy="-4.3">2</tspan></text>
<text class="xl" x="333.37" y="492.10">10<tspan class="sup" dx="0.2" dy="-4.3">3</tspan></text>
<text class="xl" x="361.60" y="492.10">10<tspan class="sup" dx="0.2" dy="-4.3">4</tspan></text>
<text class="fl" x="304.55" y="498.30">FL1-H</text>
<polygon class="fillb" points="302.4,419.0 304.0,421.0 306.0,421.0 307.6,417.0 309.0,420.0 311.0,419.0 312.4,418.0 313.2,424.0 311.0,425.0 308.0,423.0 305.0,425.0 303.0,423.0"/>
<polygon class="fillb" points="248.2,421.0 250.6,421.0 250.6,480.0 248.2,480.0"/>
<polyline class="thin" points="249.8,421.0 249.8,476.0 250.0,476.4 250.9,467.7 251.8,461.0 253.3,454.3 254.7,451.4 255.7,447.5 256.7,441.8 257.6,438.0 258.5,434.0 259.0,430.0 259.5,424.0 260.0,430.0 261.0,429.0 262.5,426.0 263.0,422.0 263.5,416.0 264.0,414.5 265.5,413.5 267.0,413.0 268.0,412.0 268.5,414.0 269.0,409.0 269.5,405.0 270.5,402.0 271.5,405.0 272.5,407.0 273.0,412.0 273.5,416.0 274.0,419.0 274.5,421.0 275.0,420.0 275.5,426.0 276.5,432.0 277.3,441.8 278.3,447.5 279.3,453.3 280.7,459.0 282.1,463.0 283.6,466.8 285.5,468.7 287.4,471.6 289.3,472.5 291.8,471.6 293.2,474.5 295.1,474.5 297.0,475.4 301.6,477.0 308.0,477.9 314.7,478.7 330.0,479.0 361.0,479.0"/>
<polyline class="thick" points="250.0,478.3 252.8,478.8 255.7,477.3 258.6,477.3 261.5,477.3 264.3,477.3 265.8,475.4 267.2,474.5 269.2,474.0 271.1,473.0 273.0,472.5 274.4,471.6 275.9,471.6 277.3,469.7 278.8,469.2 280.7,467.7 282.1,466.8 283.6,465.8 284.5,462.9 285.0,461.0 286.5,460.0 288.4,459.6 289.8,458.1 290.8,453.3 291.8,449.5 292.4,448.0 293.6,442.4 294.8,438.4 296.0,434.4 297.2,432.8 298.4,430.4 299.6,428.0 300.8,424.8 301.6,422.4 302.4,418.4 302.8,417.2 303.6,419.2 304.4,424.0 305.2,421.6 306.0,428.0 306.8,420.0 307.6,416.0 308.4,417.6 309.2,422.4 310.0,418.4 310.8,427.2 311.6,420.0 312.4,417.2 313.2,424.0 313.6,430.4 314.4,436.0 315.2,440.8 316.0,445.6 316.4,448.0 317.1,452.5 318.0,457.4 318.8,462.3 319.6,467.2 320.4,472.1 321.2,475.4 322.9,477.9 325.3,478.7 336.0,479.2 361.0,479.2"/>
<line x1="249.00" y1="368.10" x2="249.00" y2="481.10" stroke="#111" stroke-width="1.3"/>
<line x1="248.40" y1="480.50" x2="362.50" y2="480.50" stroke="#000" stroke-width="1.6"/>
<line x1="361.90" y1="368.00" x2="361.90" y2="480.50" stroke="#999" stroke-width="1.4"/>
<line x1="249.00" y1="368.60" x2="361.90" y2="368.60" stroke="#222" stroke-width="1.4"/>
<line x1="398.55" y1="479.20" x2="402.20" y2="479.20" class="tk"/>
<text class="yl" transform="translate(396.60,479.20) rotate(-90) scale(0.76,1)">0</text>
<line x1="399.55" y1="476.46" x2="402.20" y2="476.46" class="tk"/>
<line x1="399.55" y1="473.72" x2="402.20" y2="473.72" class="tk"/>
<line x1="399.55" y1="470.98" x2="402.20" y2="470.98" class="tk"/>
<line x1="399.55" y1="468.24" x2="402.20" y2="468.24" class="tk"/>
<line x1="398.55" y1="465.50" x2="402.20" y2="465.50" class="tk"/>
<text class="yl" transform="translate(396.60,465.50) rotate(-90) scale(0.76,1)">10</text>
<line x1="399.55" y1="462.76" x2="402.20" y2="462.76" class="tk"/>
<line x1="399.55" y1="460.02" x2="402.20" y2="460.02" class="tk"/>
<line x1="399.55" y1="457.28" x2="402.20" y2="457.28" class="tk"/>
<line x1="399.55" y1="454.54" x2="402.20" y2="454.54" class="tk"/>
<line x1="398.55" y1="451.80" x2="402.20" y2="451.80" class="tk"/>
<text class="yl" transform="translate(396.60,451.80) rotate(-90) scale(0.76,1)">20</text>
<line x1="399.55" y1="449.06" x2="402.20" y2="449.06" class="tk"/>
<line x1="399.55" y1="446.32" x2="402.20" y2="446.32" class="tk"/>
<line x1="399.55" y1="443.58" x2="402.20" y2="443.58" class="tk"/>
<line x1="399.55" y1="440.84" x2="402.20" y2="440.84" class="tk"/>
<line x1="398.55" y1="438.10" x2="402.20" y2="438.10" class="tk"/>
<text class="yl" transform="translate(396.60,438.10) rotate(-90) scale(0.76,1)">30</text>
<line x1="399.55" y1="435.36" x2="402.20" y2="435.36" class="tk"/>
<line x1="399.55" y1="432.62" x2="402.20" y2="432.62" class="tk"/>
<line x1="399.55" y1="429.88" x2="402.20" y2="429.88" class="tk"/>
<line x1="399.55" y1="427.14" x2="402.20" y2="427.14" class="tk"/>
<line x1="398.55" y1="424.40" x2="402.20" y2="424.40" class="tk"/>
<text class="yl" transform="translate(396.60,424.40) rotate(-90) scale(0.76,1)">40</text>
<line x1="399.55" y1="421.66" x2="402.20" y2="421.66" class="tk"/>
<line x1="399.55" y1="418.92" x2="402.20" y2="418.92" class="tk"/>
<line x1="399.55" y1="416.18" x2="402.20" y2="416.18" class="tk"/>
<line x1="399.55" y1="413.44" x2="402.20" y2="413.44" class="tk"/>
<line x1="398.55" y1="410.70" x2="402.20" y2="410.70" class="tk"/>
<text class="yl" transform="translate(396.60,410.70) rotate(-90) scale(0.76,1)">50</text>
<line x1="399.55" y1="407.96" x2="402.20" y2="407.96" class="tk"/>
<line x1="399.55" y1="405.22" x2="402.20" y2="405.22" class="tk"/>
<line x1="399.55" y1="402.48" x2="402.20" y2="402.48" class="tk"/>
<line x1="399.55" y1="399.74" x2="402.20" y2="399.74" class="tk"/>
<line x1="398.55" y1="397.00" x2="402.20" y2="397.00" class="tk"/>
<text class="yl" transform="translate(396.60,397.00) rotate(-90) scale(0.76,1)">60</text>
<line x1="399.55" y1="394.26" x2="402.20" y2="394.26" class="tk"/>
<line x1="399.55" y1="391.52" x2="402.20" y2="391.52" class="tk"/>
<line x1="399.55" y1="388.78" x2="402.20" y2="388.78" class="tk"/>
<line x1="399.55" y1="386.04" x2="402.20" y2="386.04" class="tk"/>
<line x1="398.55" y1="383.30" x2="402.20" y2="383.30" class="tk"/>
<text class="yl" transform="translate(396.60,383.30) rotate(-90) scale(0.76,1)">70</text>
<line x1="399.55" y1="380.56" x2="402.20" y2="380.56" class="tk"/>
<line x1="399.55" y1="377.82" x2="402.20" y2="377.82" class="tk"/>
<line x1="399.55" y1="375.08" x2="402.20" y2="375.08" class="tk"/>
<line x1="399.55" y1="372.34" x2="402.20" y2="372.34" class="tk"/>
<line x1="398.55" y1="369.60" x2="402.20" y2="369.60" class="tk"/>
<text class="yl" transform="translate(396.60,369.60) rotate(-90) scale(0.76,1)">80</text>
<text class="yl" transform="translate(388.80,426.20) rotate(-90)" style="font-size:7px">Counts</text>
<line x1="410.55" y1="479.20" x2="410.55" y2="481.00" class="tk"/>
<line x1="415.43" y1="479.20" x2="415.43" y2="481.00" class="tk"/>
<line x1="418.89" y1="479.20" x2="418.89" y2="481.00" class="tk"/>
<line x1="421.58" y1="479.20" x2="421.58" y2="481.00" class="tk"/>
<line x1="423.77" y1="479.20" x2="423.77" y2="481.00" class="tk"/>
<line x1="425.63" y1="479.20" x2="425.63" y2="481.00" class="tk"/>
<line x1="427.24" y1="479.20" x2="427.24" y2="481.00" class="tk"/>
<line x1="428.66" y1="479.20" x2="428.66" y2="481.00" class="tk"/>
<line x1="429.93" y1="479.20" x2="429.93" y2="481.80" class="tk"/>
<line x1="438.27" y1="479.20" x2="438.27" y2="481.00" class="tk"/>
<line x1="443.15" y1="479.20" x2="443.15" y2="481.00" class="tk"/>
<line x1="446.62" y1="479.20" x2="446.62" y2="481.00" class="tk"/>
<line x1="449.30" y1="479.20" x2="449.30" y2="481.00" class="tk"/>
<line x1="451.50" y1="479.20" x2="451.50" y2="481.00" class="tk"/>
<line x1="453.36" y1="479.20" x2="453.36" y2="481.00" class="tk"/>
<line x1="454.96" y1="479.20" x2="454.96" y2="481.00" class="tk"/>
<line x1="456.38" y1="479.20" x2="456.38" y2="481.00" class="tk"/>
<line x1="457.65" y1="479.20" x2="457.65" y2="481.80" class="tk"/>
<line x1="466.00" y1="479.20" x2="466.00" y2="481.00" class="tk"/>
<line x1="470.88" y1="479.20" x2="470.88" y2="481.00" class="tk"/>
<line x1="474.34" y1="479.20" x2="474.34" y2="481.00" class="tk"/>
<line x1="477.03" y1="479.20" x2="477.03" y2="481.00" class="tk"/>
<line x1="479.22" y1="479.20" x2="479.22" y2="481.00" class="tk"/>
<line x1="481.08" y1="479.20" x2="481.08" y2="481.00" class="tk"/>
<line x1="482.69" y1="479.20" x2="482.69" y2="481.00" class="tk"/>
<line x1="484.11" y1="479.20" x2="484.11" y2="481.00" class="tk"/>
<line x1="485.38" y1="479.20" x2="485.38" y2="481.80" class="tk"/>
<line x1="493.72" y1="479.20" x2="493.72" y2="481.00" class="tk"/>
<line x1="498.60" y1="479.20" x2="498.60" y2="481.00" class="tk"/>
<line x1="502.07" y1="479.20" x2="502.07" y2="481.00" class="tk"/>
<line x1="504.75" y1="479.20" x2="504.75" y2="481.00" class="tk"/>
<line x1="506.95" y1="479.20" x2="506.95" y2="481.00" class="tk"/>
<line x1="508.81" y1="479.20" x2="508.81" y2="481.00" class="tk"/>
<line x1="510.41" y1="479.20" x2="510.41" y2="481.00" class="tk"/>
<line x1="511.83" y1="479.20" x2="511.83" y2="481.00" class="tk"/>
<line x1="513.10" y1="479.20" x2="513.10" y2="481.80" class="tk"/>
<text class="xl" x="401.90" y="490.80">10<tspan class="sup" dx="0.2" dy="-4.3">0</tspan></text>
<text class="xl" x="429.62" y="490.80">10<tspan class="sup" dx="0.2" dy="-4.3">1</tspan></text>
<text class="xl" x="457.35" y="490.80">10<tspan class="sup" dx="0.2" dy="-4.3">2</tspan></text>
<text class="xl" x="485.07" y="490.80">10<tspan class="sup" dx="0.2" dy="-4.3">3</tspan></text>
<text class="xl" x="512.80" y="490.80">10<tspan class="sup" dx="0.2" dy="-4.3">4</tspan></text>
<text class="fl" x="456.75" y="497.00">FL1-H</text>
<polygon class="fillb" points="402.0,419.0 404.0,419.0 404.0,479.0 402.0,479.0"/>
<polyline class="thin" points="403.3,419.0 403.3,468.0 403.8,464.8 404.8,459.0 405.8,453.3 406.7,448.5 408.2,445.6 409.1,440.8 410.0,438.0 411.5,435.0 413.0,433.0 414.0,430.0 414.5,424.0 415.0,419.0 415.5,418.0 416.5,423.0 417.0,420.0 417.5,414.0 418.0,411.0 418.5,405.0 419.0,400.5 419.5,406.0 420.0,411.0 421.0,407.0 422.0,410.0 423.0,401.0 424.0,403.0 425.0,407.0 426.0,412.0 426.5,418.0 427.5,424.0 428.0,429.0 428.5,432.0 429.0,436.0 429.8,441.8 430.8,447.5 432.2,454.3 433.7,460.0 435.1,464.8 436.5,468.7 438.0,471.6 440.4,474.0 442.8,475.4 445.2,476.9 448.0,476.4 450.0,477.3 460.0,477.8 512.0,478.0"/>
<polyline class="thick" points="403.8,477.3 407.7,477.3 411.5,477.3 414.4,476.9 415.9,475.0 417.3,476.4 419.2,476.9 421.2,475.4 423.0,475.4 425.0,474.5 426.9,473.5 428.8,473.0 430.8,471.6 432.7,470.1 434.1,469.2 436.1,468.7 438.0,465.8 438.9,464.4 440.4,464.8 441.8,462.9 443.3,462.0 445.2,460.5 446.6,458.1 447.6,453.3 448.6,449.5 449.5,447.5 450.0,451.0 452.0,445.0 453.9,441.3 455.8,435.4 457.3,432.5 458.0,434.0 458.5,431.0 459.0,428.0 460.0,425.0 460.5,422.0 461.0,419.0 461.5,414.0 462.0,410.0 463.0,407.0 464.5,405.0 465.5,402.0 466.0,399.0 466.5,390.0 467.0,396.0 467.5,401.0 468.0,407.0 468.5,413.0 469.0,416.0 469.5,420.0 470.0,424.0 470.5,428.0 471.0,433.0 471.3,443.2 472.3,452.9 473.3,462.6 475.2,470.4 477.2,474.2 479.1,477.1 483.0,477.7 512.0,478.0"/>
<line x1="402.20" y1="369.10" x2="402.20" y2="479.80" stroke="#111" stroke-width="1.3"/>
<line x1="401.60" y1="479.20" x2="513.70" y2="479.20" stroke="#000" stroke-width="1.6"/>
<line x1="513.10" y1="369.00" x2="513.10" y2="479.20" stroke="#666" stroke-width="1.4"/>
<line x1="402.20" y1="369.60" x2="513.10" y2="369.60" stroke="#555" stroke-width="1.4"/>
</svg>
</body></html>
